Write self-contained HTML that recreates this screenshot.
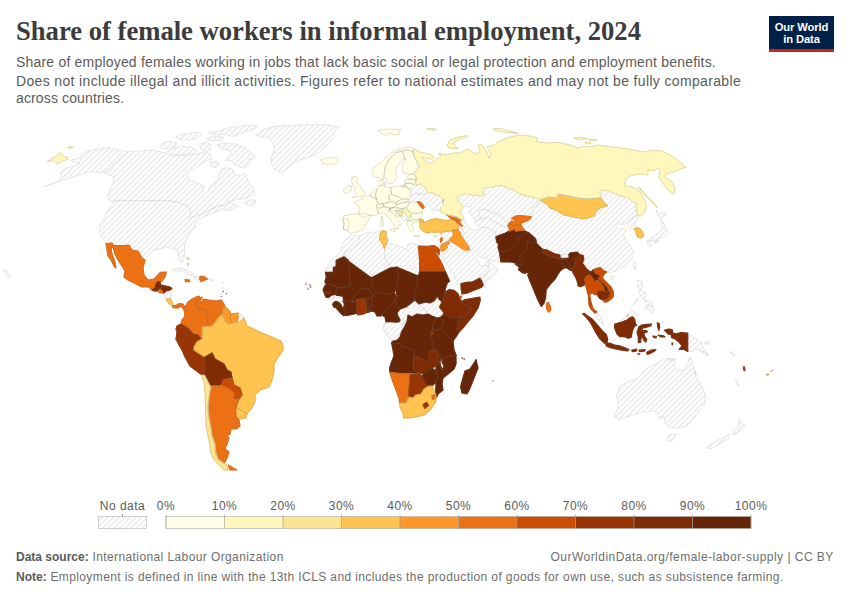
<!DOCTYPE html>
<html><head><meta charset="utf-8">
<style>
html,body{margin:0;padding:0;background:#fff;}
body{width:850px;height:600px;position:relative;overflow:hidden;font-family:"Liberation Sans",sans-serif;}
#title{position:absolute;left:16px;top:14px;font-family:"Liberation Serif",serif;font-weight:bold;font-size:28px;color:#3c3c3c;white-space:nowrap;line-height:34px;transform:scaleX(0.9507);transform-origin:0 0;}
.sub{position:absolute;left:16px;font-size:14px;line-height:17.5px;color:#5b5b5b;white-space:nowrap;}
#logo{position:absolute;left:769px;top:16px;width:65px;height:33px;background:#002147;border-bottom:3px solid #d0201a;color:#fff;font-weight:bold;font-size:11.2px;line-height:12px;text-align:center;letter-spacing:-0.1px;}
#logo span{display:block;}
.ft{position:absolute;font-size:12px;color:#6e6e6e;white-space:nowrap;line-height:15px;}
.ft b{color:#5b5b5b;letter-spacing:0;}
svg{position:absolute;left:0;top:0;}
.lg{font-size:12px;fill:#5b5b5b;font-family:"Liberation Sans",sans-serif;letter-spacing:0.5px;}
</style></head><body>
<div id="title">Share of female workers in informal employment, 2024</div>
<div class="sub" style="top:54px;letter-spacing:0.196px">Share of employed females working in jobs that lack basic social or legal protection and employment benefits.</div>
<div class="sub" style="top:72.5px;letter-spacing:0.347px">Does not include illegal and illicit activities. Figures refer to national estimates and may not be fully comparable</div>
<div class="sub" style="top:90px;letter-spacing:0.13px">across countries.</div>
<div id="logo"><span style="margin-top:4.6px">Our World</span><span>in Data</span></div>
<div class="ft" style="left:16px;top:549.5px;letter-spacing:0.4px"><b>Data source:</b> International Labour Organization</div>
<div class="ft" style="left:16px;top:569.7px;letter-spacing:0.39px"><b>Note:</b> Employment is defined in line with the 13th ICLS and includes the production of goods for own use, such as subsistence farming.</div>
<div class="ft" style="right:16.2px;top:549.5px;letter-spacing:0.47px">OurWorldinData.org/female-labor-supply | CC BY</div>
<svg width="850" height="600" viewBox="0 0 850 600">
<defs><pattern id="h" patternUnits="userSpaceOnUse" width="4" height="4" patternTransform="rotate(-45)"><rect width="4" height="4" fill="#fff"/><path d="M-1,2 L5,2" stroke="#d9d9d9" stroke-width="0.9"/></pattern></defs>
<g fill="url(#h)" stroke="#d0d0d0" stroke-width="0.5" stroke-linejoin="round">
<path d="M81,154.4 L88,151 L100,148.4 L108,147.4 L120,150 L128,151.4 L140,151 L153,150 L158.5,151.3 L167,153.4 L172.7,155.5 L182.6,155.5 L192.5,154.8 L199.6,153.4 L205.2,152 L209.5,153.4 L212.3,159.1 L206.7,160.5 L201,164.7 L193.9,169 L187.5,174.7 L189.7,179.6 L196.7,182.4 L203.8,186 L203.1,191.7 L205.2,193.8 L208.1,191.7 L208.8,187.4 L213.7,183.2 L218,178.9 L219.4,173.2 L220.8,169 L226.5,167.6 L232.2,169 L235,174.7 L240.7,176.1 L244.2,172.5 L246.3,177.5 L249.2,183.2 L253.4,188.8 L254.1,194.5 L252,196 L246,198 L236,200 L228,202 L238,206 L230,211 L224,209 L216,212 L206,216 L200,219 L196,222 L195,228 L192,230 L192,230 L190,234 L187,239 L184.4,245 L184.8,250 L184.4,255 L183.8,259.8 L181.8,262.6 L179.4,260.6 L178.6,257.4 L178,254 L177.6,250 L174,249 L170,248 L170,248 L166,247 L160,249 L154,250 L149,254 L145,260 L142,258 L138,251 L132,250 L129,245 L125,245.6 L114,245.6 L112,243 L106,243.6 L102,238 L100,232 L99,230 L100,226 L104,218 L108,210 L112,204 L115,200.6 L112,203 L107,198 L109,194 L111,186 L114,182 L113,176 L109,175 L104,173 L96,172 L88,172 L80,175 L74,177 L66,179 L56,183 L44.4,186.4 L60,180 L62,176 L60,172 L66,168 L74,166 L80,163 L72,162 L71,160 L80,158Z"/>
<path d="M159.2,145.6 L164.2,142.1 L171.2,141.4 L176.9,143.5 L174.8,147 L168.4,148.5 L162,148.5Z"/>
<path d="M167.7,151.3 L173.4,148.5 L181.2,146.3 L191.1,147 L196.7,150.6 L193.9,153.4 L186.8,154.1 L178.3,154.8 L171.2,154.8Z"/>
<path d="M175.5,137.1 L182.6,134.3 L192.5,132.9 L199.6,132.2 L201,135 L196.7,138.5 L189.7,140 L181.2,140Z"/>
<path d="M199.6,144.2 L206.7,142.1 L210.9,144.9 L210.2,149.9 L205.2,151.3 L201,149.2Z"/>
<path d="M206.7,137.8 L213.7,136.4 L223.7,137.1 L222.9,140 L213.7,140.7 L208.1,140.4Z"/>
<path d="M208.1,132.2 L216.6,131.5 L225.1,128.6 L237.8,126.5 L249.2,125.1 L257.6,125.8 L253.4,129.3 L246.3,131.5 L240.7,133.6 L235,136.4 L229.3,135.7 L223.7,134.7 L216.6,135 L210.9,134.3Z"/>
<path d="M216.6,144.9 L223.7,142.8 L229.3,143.5 L236.4,144.2 L243.5,147 L250.6,151.3 L255.5,157 L252,160.5 L247.7,159.1 L249.2,163.3 L246.3,166.9 L240.7,167.6 L235,164.7 L230.7,160.5 L225.1,160.5 L227.9,156.2 L232.2,153.4 L227.9,149.9 L220.8,148.5Z"/>
<path d="M209.5,161.9 L216.6,161.2 L219.4,164.7 L215.2,167.6 L210.9,166.2Z"/>
<path d="M244,203 L250,200 L256,200 L254,206 L247,205Z"/>
<path d="M256,135 L264,129 L278,126 L300,125 L322,124.4 L339,127 L335,130 L334,136 L330,142 L324,148 L318,153 L310,157 L300,160 L292,164 L286,170 L282,173 L276,171 L272,165 L271,158 L274,150 L273,143 L269,138 L262,137Z"/>
<path d="M3,270 L7,271 L11,276 L10,278.4 L6,274Z"/>
<path d="M172,269 L182,268 L192,273 L197,276.4 L190,275.6 L182,271 L174,271Z"/>
<path d="M194,277 L199.6,276.4 L200,280 L195,280Z"/>
<path d="M209.6,279.2 L213,279.2 L213,280.8 L209.6,280.8Z"/>
<path d="M160,281.6 L162,281 L162.4,285 L160.6,285Z"/>
<path d="M163,293 L166,291 L170,290 L170,290 L172,288.4 L171.6,294 L170.4,299 L169,299 L166,299 L164,296Z"/>
<path d="M238,313 L243,316 L242,320 L239,322 L237,322 L238,318Z"/>
<path d="M221.8,282.1 L222.7,282.1 L222.7,283.4 L221.8,283.4Z"/>
<path d="M222.1,287.1 L223,287.1 L223,288.4 L222.1,288.4Z"/>
<path d="M221.6,292.3 L222.5,292.3 L222.5,293.7 L221.6,293.7Z"/>
<path d="M221,300 L223.6,300 L223.6,302 L221,302Z"/>
<path d="M349,236.2 L354.7,234.8 L358.9,236.2 L367.4,232.7 L377.3,231.7 L380.9,232 L383,230.6 L386.5,231.7 L385.8,236.2 L387.9,239.8 L386.5,243.3 L394.3,244 L402.8,247.6 L407.1,249.7 L407.8,244.7 L412.7,242.6 L418.1,245.5 L428,246.4 L434,245.6 L438,248 L439.6,250 L439,255 L436,251 L435,252 L440,260 L443,266 L445,271 L449,280 L447,284 L448,288 L452,290 L457,294 L458.4,295 L461,294 L462,297 L463,300 L470,299.6 L479,297 L480,300 L478,306 L474,314 L468,322 L462,329 L459,332 L456,337 L453,341 L454,350 L456,355 L456,364 L454,369 L448,374 L443,378 L442,384 L443,390 L438,394 L436.4,398 L435,403 L430,410 L424,415 L416,417 L408,418 L403.6,418 L403,413 L400,407 L399.6,403 L399,398 L396,390 L393,382 L391,376 L390,372.4 L389.6,368 L391.6,362 L394,356 L393,350 L391.6,343 L391,335 L386,332 L384,328 L385,323 L386,322 L385,317 L382,315 L381,316 L377,316 L375,312 L371,311 L369,312 L367,312.4 L362,314.4 L358,315 L352,314.4 L346,316 L342,314 L340,312 L337,309 L333,305 L331,301 L328,298 L325,295 L324,292 L323,288 L325,284 L326.3,285.1 L324.9,281.6 L326.3,277.3 L325.6,272.4 L324.2,272.4 L328.5,264.6 L333.4,257.5 L339.1,254.7 L341.2,248.3 L343.3,241.9Z"/>
<path d="M439.9,234 L440.2,238.9 L439.9,243.2 L440.2,250.2 L441.3,251.7 L442.8,257 L446.4,264.1 L450.6,271.2 L454.2,276.8 L458.4,283.9 L461.2,288.9 L462,293.8 L466.9,293.1 L474,290.3 L481.1,287.5 L483.2,285.3 L486.7,281.1 L492.4,277.5 L495.9,274 L497.8,270.5 L495.9,266.9 L492.4,264.1 L489.6,262.7 L488.9,259.1 L487.5,261.2 L485.3,264.8 L481.8,266.2 L479.7,265.5 L479,262 L477.5,261.2 L474.7,256.3 L471.9,252 L470.5,249.9 L472.6,249.2 L476.1,253.5 L481.1,257.7 L486.7,258.4 L489.6,259.8 L492.4,261.2 L500.9,262 L499.4,251.7 L498,247.4 L498.7,244.6 L496.6,241.7 L495.9,236.8 L499.4,235.4 L505.1,233.2 L509.3,231.1 L509.3,228.3 L507.6,225.5 L509.3,223.3 L511.4,221.2 L511.4,218.4 L515,216.2 L520.7,215.5 L526.3,216.2 L531.3,216.5 L529.9,219.1 L526.3,221.2 L522.1,222.6 L520.7,225.5 L522.8,227.6 L524.2,230.4 L529.2,233.2 L532.7,236.1 L535.5,238.9 L536,243 L542,249 L547,250 L554,253.6 L560,255 L561,258 L567,258 L570,253 L577,252 L580,255 L582,260 L587,267 L590,271 L593,273 L595,269 L599,267 L604,269 L607,272 L610,273 L616,271 L624,267 L630,260 L632.4,259.3 L633.8,252.2 L631,246.6 L626.7,240.9 L623.2,234.5 L626.7,229.6 L622.5,228.2 L618.2,228.9 L615.4,226 L619,223.2 L621.1,225.3 L626.7,223.2 L628.2,225.3 L630.3,226.7 L632.4,228.9 L634.5,228.9 L635.9,227.5 L634.5,223.9 L635.9,221.1 L638.1,218.2 L637.4,215.4 L636.7,210.5 L635.9,206.2 L637.4,203.4 L633.8,202.7 L631,199.8 L625.3,197 L619.7,195.6 L614,193.5 L608.3,190.6 L601.2,189.9 L599.8,192.7 L601.2,196.3 L599.8,201.2 L602.7,203.4 L607.6,205.5 L601.2,207.6 L597.7,210.5 L596.3,214.7 L588.5,217.5 L580,218.2 L574,217 L564,215 L556,210 L550,208 L547,204 L540,200 L536,198 L528,196 L520,194 L514,190 L507.2,187.4 L501.5,185.5 L495.8,186 L492,186.9 L484.4,187.9 L482,189.3 L483,192.1 L484.4,194.5 L481.6,195.9 L476.8,195 L473,195.5 L468.3,194 L463.5,193.6 L459.7,195.5 L457.6,197.8 L457.8,201.2 L459.7,203.5 L462.6,205 L463.5,206.9 L467.3,206.4 L470.2,207.3 L471.6,208.8 L469.7,210.7 L468.3,212.6 L471.1,215.4 L474,218.3 L474.9,221.1 L475.9,224.9 L479.7,227.8 L478.7,230.1 L474.9,229.7 L471.1,228.7 L468.3,225.9 L466.4,223 L464.5,220.2 L463.5,219.7 L460.7,219.2 L461.1,220.6 L458.3,220.9 L460.7,223.5 L462.6,226.3 L460.2,225.4 L458.3,226.8 L459.2,229.7 L454,230.6 L447.4,231.6 L440.7,232.5Z"/>
<path d="M655.8,209.7 L659.3,213.3 L665,212.6 L666.4,214.7 L663.6,216.8 L660,217.5 L657.2,215.4 L656.5,212.6Z"/>
<path d="M660.7,218.2 L663.6,222.5 L665.7,227.5 L667.8,233.8 L665,236.7 L660.7,238.1 L657.2,239.5 L653.7,240.2 L650.1,240.9 L647.3,240.9 L650.8,237.4 L655.1,235.2 L659.3,232.4 L662.2,228.2 L661.4,222.5Z"/>
<path d="M646.6,241.6 L650.1,241.6 L652.2,245.2 L650.1,246.6 L648,244.4Z"/>
<path d="M653.7,240.9 L658.6,240.6 L658.6,242.3 L654.4,242.6Z"/>
<path d="M633.7,263.1 L635.6,261.9 L636.5,264 L636,268.8 L635.1,270.2 L633.5,266.9Z"/>
<path d="M609.4,276.4 L612.3,274.5 L614.2,276.4 L612.8,279.2 L610.4,279.7Z"/>
<path d="M592.8,311.2 L597.1,312 L601.3,317.6 L603.5,324.7 L600.6,322.6 L597.1,318.3 L594.2,314.8Z"/>
<path d="M617.6,323.3 L620.5,320.5 L625.4,316.9 L629,313.4 L631.8,310.5 L636,312.7 L637.5,314.8 L634.6,316.2 L632.5,316.9 L630.4,317.6 L627.5,319.7 L622.6,321.9Z"/>
<path d="M637,280 L642,281 L642.4,288 L640,290 L637.6,287Z"/>
<path d="M638.9,290 L644.5,291.4 L645.9,295.7 L643.8,298.5 L646.7,300.6 L644.5,301.3 L641.7,297.8 L639.6,294.2Z"/>
<path d="M645.2,302 L649.5,300.6 L653,303.5 L652.3,306.3 L648.8,304.9 L646.7,305.6Z"/>
<path d="M647.4,306.3 L653,305.6 L654,309.8 L651.6,313.4 L648.8,309.8 L645.9,309.1 L644.5,307.7Z"/>
<path d="M632.5,305.6 L637.5,298.5 L638.2,299.2 L633.9,305.9Z"/>
<path d="M687.7,333.2 L692,336 L697.6,339.6 L702.6,343.1 L701.9,345.9 L704.7,350.2 L709,355.2 L704.7,353.7 L699.8,350.2 L695.5,348.8 L692,351.6 L687.7,351.6Z"/>
<path d="M704,343.1 L709.7,341.7 L710,343.8 L705.4,344.5Z"/>
<path d="M614,416 L617,410 L618,402 L616.4,397 L619.6,386 L627,382 L638,378 L643,372 L650,366 L654,365 L659,362 L666,358 L672,360 L676,359 L667.2,358 L669.3,360.8 L675,360.1 L673.6,365.1 L677.8,369.3 L683.5,370.7 L687.7,363.7 L689.9,356.6 L692,360.8 L694.1,369.3 L695.5,375 L695,370 L697,378 L702,386 L705.6,396 L705,403 L700,410 L694,418 L688,425 L680,428 L670,428 L665,423 L664,416 L659,419 L658,414 L654,411 L642,412 L630,416 L619,419.6Z"/>
<path d="M668,435 L676,434 L673,440 L668,441.6Z"/>
<path d="M739,418 L742,424 L746,426 L740,431 L734,435 L733,431 L738,427Z"/>
<path d="M730,434 L728,439 L720,444 L710,449 L705.6,447.6 L712,443 L722,438Z"/>
<path d="M735,380.4 L736.4,380 L739.6,385.6 L738.4,386.4Z"/>
<path d="M561.6,255 L567,255.6 L567,257.6 L562,257.4Z"/>
<path d="M701,351 L705,352.4 L708,355 L707,355.6 L703.6,353.6 L700.6,351.8Z"/>
<path d="M730,351 L732.4,352.4 L735,356 L733.6,356 L731,353Z"/>
<path d="M401.6,217.2 L405.8,214.4 L407.9,217.2 L405.8,219.3 L404.4,221.4 L403,219.3Z"/>
<path d="M411.5,187.5 L414.3,184.6 L417.2,185.3 L421.4,183.9 L425.7,188.2 L427.1,192.4 L423.5,194.5 L418.6,193.8 L412.9,194.5 L410.8,192.4 L410.1,189.6Z"/>
<path d="M412.9,194.5 L418.6,193.8 L423.5,194.5 L427.1,192.4 L432.7,193.1 L439.1,195.9 L443.4,199.5 L442.6,203 L439.1,204.4 L436.3,207.3 L439.1,209.4 L434.2,211.5 L431.3,209.4 L429.9,205.9 L425.7,206.6 L423.5,208 L422.8,204.4 L420,201.9 L417.2,201.9 L414.3,202.3 L410.1,201.6 L408.7,199.5 L410.8,196.7 L409.4,195.9Z"/>
</g>
<g fill="none" stroke="#c4c4c4" stroke-width="0.5">
<path d="M128,151.4 L104,173"/>
<path d="M115,200.6 L170,200.6 L170,201 L178,202 L185,205 L190,209 L191,213 L189,218 L198,215.6 L210,210 L220,205 L224,206 L228,202"/>
<path d="M358.9,236.2 L360.3,241.9 L356.1,245.5 L351.1,249 L345.5,251.8 L344,256.8"/>
<path d="M343.3,253.2 L344,256.8 L336.2,260.3 L336.2,266.7 L333.4,267.4 L333.4,272.4 L325.6,272.4"/>
<path d="M384.4,248.7 L385.1,258.9 L388.7,264.6 L391.5,266.3"/>
<path d="M419,304 L425,310 L428,314"/>
<path d="M392,322 L392.4,328 L400,327.6 L402,324 L407,322"/>
<path d="M392.4,328 L390,334"/>
<path d="M331.6,295.2 L333.5,295.7 L334,297.6 L331.2,300.4"/>
<path d="M626.7,223.2 L629.6,220.4 L634.5,216.8 L637.4,215.4"/>
<path d="M531.3,216.5 L533.4,212 L532,207.7 L537.6,204.9 L539.1,200.7 L541.9,199.2"/>
<path d="M479.7,227.8 L484.4,226.8 L488.2,228.2 L493,230.6 L495.8,232.5 L495.8,235.4"/>
<path d="M474.9,221.1 L477.3,219.2 L480.6,219.7 L483.5,218.3 L486.3,217.3 L490.1,219.2 L493.9,221.6 L497.7,223 L501.5,225.9 L505.3,226.8 L508.2,230.1"/>
<path d="M480.6,219.7 L479.7,215.4 L478.7,210.7 L482.5,209.2 L486.3,210.2 L492,212.6 L496.8,213.5 L501.5,216.4 L504.4,220.2 L507.2,223 L510.1,222.1"/>
<path d="M479.7,278.2 L486.7,274.7 L489.6,268.3 L487.5,266.2 L485.3,264.8"/>
<path d="M487.5,266.2 L489.6,262.7"/>
<path d="M467.5,250.2 L469.7,249.5 L468.2,252.4 L466.1,251.7"/>
<path d="M445.6,242.5 L449.1,240.3"/>
<path d="M460.5,226.2 L463.3,231.8 L462.6,237.5 L466.8,243.2 L469,248.8 L469.7,249.5"/>
</g>
<g stroke-width="1.2" stroke-linejoin="round">
<path d="M321,159.6 L328,158 L337,157.6 L339,160 L336,163.6 L329,165 L323,163.6Z" fill="#ffffe5" stroke="#ffffe5"/>
<path d="M47.4,161.4 L52.4,158.6 L61,152.6 L63.6,156.6 L68,157.4 L68.4,159.4 L63.6,160.4 L60,162.4 L57,163.6 L54,160.4 L50,161Z" fill="#fff7bc" stroke="#fff7bc"/>
<path d="M67.6,147.6 L70.4,146.6 L73,147 L70,148.4Z" fill="#fff7bc" stroke="#fff7bc"/>
<path d="M186.6,257.6 L189,258 L189.4,260 L187.2,259.6Z" fill="#fee391" stroke="none"/>
<path d="M187.2,263 L188.8,263 L188.8,265.6 L187.4,265.6Z" fill="#fee391" stroke="none"/>
<path d="M185,279.6 L189.6,280 L189.2,281.6 L185.6,281.6Z" fill="#ec7014" stroke="#ec7014"/>
<path d="M200,276.4 L204,276.4 L207.6,279 L204,280.4 L201,281.6 L199.6,279Z" fill="#ec7014" stroke="#ec7014"/>
<path d="M106,243.6 L112,243 L114,245.6 L125,245.6 L129,245 L132,250 L138,251 L142,258 L145,260 L143,268 L144,275 L148,280 L154,279 L158,275 L160,272.4 L166.4,272 L165,277 L162,281 L160,281.6 L158,281.6 L156,284 L155,288 L152,290 L149,287 L142,287 L134,283 L128,280 L124,277 L125,271 L122,266 L118,260 L115,254 L113,247 L111,248 L112,254 L115,262 L116,268 L114,266 L111,260 L108,256 L107,250Z" fill="#ec7014" stroke="#ec7014"/>
<path d="M152,290 L155,288 L156,284 L158,281.6 L160,281.6 L160.6,285 L162,287 L160,289 L158,291 L154,291Z" fill="#7f2c05" stroke="#7f2c05"/>
<path d="M160.6,285 L166,286 L170,287 L170,287 L172,288.4 L170,290 L170,290 L166,291 L164,293 L162,291 L160,289 L162,287Z" fill="#7f2c05" stroke="#7f2c05"/>
<path d="M158,291 L160,289.2 L162.4,291.4 L163,293 L160,293Z" fill="#ec7014" stroke="#ec7014"/>
<path d="M166,299 L170,299 L170.4,299 L172.4,302.4 L172.8,305.6 L171,305 L168.4,303Z" fill="#fec44f" stroke="#fec44f"/>
<path d="M172.8,305.6 L176,305.6 L179,303.6 L183,304 L185,307 L183.6,309 L181,306 L178,308 L175,308 L172.4,307Z" fill="#ec7014" stroke="#ec7014"/>
<path d="M185,307 L188,302 L192,299 L196,297 L199,296 L200,298 L197,301 L196,305 L199,309 L206,310 L208,318 L207,323 L209,326 L202,327 L202.4,334 L202,339 L200,338 L198,335 L193,334 L189,329 L184,326 L181,324 L182,320 L185,316 L184,310Z" fill="#ec7014" stroke="#ec7014"/>
<path d="M200,298 L202,297 L200,301 L202,303 L203,299 L209,300 L216,301 L221,300 L224,304 L225,307 L222.4,310 L223,314 L218,318 L215,323 L212,326 L209,326 L207,323 L208,318 L206,310 L199,309 L196,305 L197,301Z" fill="#ec7014" stroke="#ec7014"/>
<path d="M225,307 L229,310 L231,314 L230,319 L232,323 L228,324 L225.6,321 L224,318 L223,314 L222.4,310Z" fill="#fe9929" stroke="#fe9929"/>
<path d="M231,314 L238,313 L238,318 L237,322 L233,323 L232,323 L230,319Z" fill="#fe9929" stroke="#fe9929"/>
<path d="M177,326 L181,324 L184,326 L189,329 L190,332 L185,336 L182,340 L179,340 L176,339 L177,332 L176,329Z" fill="#993404" stroke="#993404"/>
<path d="M176,339 L179,340 L182,340 L185,336 L190,332 L189,329 L193,334 L198,335 L200,338 L202,339 L197,342 L194,347 L194,350 L194,350 L200,354 L205,357 L205.6,366 L204,375 L202,375 L198,372 L190,366 L185,357 L182,350 L179,345Z" fill="#993404" stroke="#993404"/>
<path d="M209,326 L212,326 L215,323 L218,318 L223,314 L224,318 L225.6,321 L228,324 L232,323 L237,322 L239,322 L242,320 L244,318 L247,326 L254,329 L262,333 L272,337 L281,341 L283,346 L283,350 L283,350 L279,356 L274,364 L274,372 L272,380 L269,387 L260,390 L255,395 L255,402 L251,409 L247,414 L236,407 L239,399 L242,395 L240,388 L234,385 L232,378 L231,372 L227,370 L224,364 L215,359 L212,353 L205,357 L200,354 L194,350 L194,347 L197,342 L202,339 L202.4,334 L202,327Z" fill="#fec44f" stroke="#fec44f"/>
<path d="M236,407 L247,414 L246,418 L240,419 L236,417 L235.6,410Z" fill="#fec44f" stroke="#fec44f"/>
<path d="M205,357 L212,353 L215,359 L224,364 L227,370 L231,372 L232,378 L227,379 L223,380 L221.6,385 L218,386 L213,385.6 L211,387 L208,382 L205,376 L204,375 L205.6,366Z" fill="#7f2c05" stroke="#7f2c05"/>
<path d="M223,380 L227,379 L232,378 L234,385 L240,388 L242,395 L239,399 L233.6,399 L234,393 L229,389 L222.4,386 L221.6,385Z" fill="#cc4c02" stroke="#cc4c02"/>
<path d="M211,387 L213,385.6 L218,386 L221.6,385 L222.4,386 L229,389 L234,393 L233.6,399 L239,399 L236,407 L235.6,410 L236,417 L239,420 L240,426 L236,429 L231,429 L230,434 L227,436 L229,438 L227,444 L225,449 L229,452 L227,458 L225,462 L223,463 L218,459 L215.6,452 L215,444 L212,436 L211,428 L209,418 L208,408 L209,398 L210,391Z" fill="#ec7014" stroke="#ec7014"/>
<path d="M228.4,465 L234,468.6 L237,470 L230,470Z" fill="#ec7014" stroke="#ec7014"/>
<path d="M202,375 L204,375 L205,376 L208,382 L211,387 L210,391 L209,398 L208,408 L209,418 L211,428 L212,436 L215,444 L215.6,452 L218,459 L223,463 L226,464 L228.4,470 L224,470 L218,464 L213,458 L210.6,452 L209.8,444 L208,436 L206.2,426 L205.6,410 L205.2,394 L204,382Z" fill="#fee391" stroke="#fee391"/>
<path d="M222.9,291.1 L223.9,291.1 L223.9,292.1 L222.9,292.1Z" fill="#993404" stroke="none"/>
<path d="M226.1,293 L227,293 L227,294 L226.1,294Z" fill="#993404" stroke="none"/>
<path d="M220.8,295.9 L221.8,295.9 L221.8,296.8 L220.8,296.8Z" fill="#993404" stroke="none"/>
<path d="M325.6,272.4 L333.4,272.4 L333.4,267.4 L336.2,266.7 L336.2,260.3 L344,256.8 L348.3,260.3 L349,263.2 L350.1,286.5 L337,287.9 L336.2,285.8 L332,284.4 L326.3,285.1 L324.9,281.6 L326.3,277.3Z" fill="#662506" stroke="#662506"/>
<path d="M323.1,289.5 L325,285.7 L329.3,284.3 L333.5,285.7 L336.9,287.4 L336.1,292.3 L336.4,295.2 L335.4,294.2 L331.6,295.2 L328.3,297.6 L325.9,297.1 L324.5,293.8Z" fill="#662506" stroke="#662506"/>
<path d="M324.5,292.4 L330.7,292.2 L330.7,293.1 L324.5,293.4Z" fill="#7f2c05" stroke="#7f2c05"/>
<path d="M344,258 L370,277 L372,277.6 L372,283 L371,288 L365,288 L360,290 L357,293 L354,296 L352,300 L350.2,301.4 L347.8,300.4 L343.3,301.4 L343.5,298.5 L342.6,296.1 L336.4,295.2 L335.9,292.3 L337,287.9 L350.1,286.5 L349,263.2 L348.3,260.3Z" fill="#662506" stroke="#662506"/>
<path d="M372,277.6 L390,268 L397,267 L398.4,273 L398,280 L396,290 L394,292 L388,294 L383,293 L376,292 L373,295 L370,292 L368,289 L365,288 L371,288 L372,283Z" fill="#662506" stroke="#662506"/>
<path d="M397,267 L399,268 L417,275.6 L417,288 L415,290 L414,297 L415,300 L411,303 L406,307 L400,309 L397,306 L395,299 L397,296 L396,290 L398,280 L398.4,273Z" fill="#662506" stroke="#662506"/>
<path d="M419.6,271 L445,271 L449.6,281 L447,283.4 L445.6,288 L444,296 L441.6,301.4 L439,299 L437.6,296 L434,301 L430,303 L426,302 L422,303 L419,304 L416,301 L415,300 L414,297 L415,290 L417,288 L417,275.6 L419,275Z" fill="#662506" stroke="#662506"/>
<path d="M418.4,246 L428,246.4 L434,245.6 L438,248 L439.6,250 L439,255 L436,251 L435,252 L440,260 L443,266 L445,271 L419.6,271 L419.6,260Z" fill="#cc4c02" stroke="#cc4c02"/>
<path d="M380.9,232 L383,230.6 L386.5,231.7 L385.8,236.2 L387.9,239.8 L386.5,243.3 L384.4,248.7 L383,244.7 L379.4,239.1Z" fill="#fec44f" stroke="#fec44f"/>
<path d="M352,300 L354,296 L357,293 L360,290 L365,288 L368,289 L370,292 L373,295 L370,298 L365,299 L360,299 L356,300 L355,303Z" fill="#662506" stroke="#662506"/>
<path d="M373,295 L376,292 L383,293 L388,294 L394,292 L396,296 L395,299 L393,303 L390,307 L387,310 L384,312 L381,316 L377,316 L375,312 L371,311 L371,304 L372,299Z" fill="#662506" stroke="#662506"/>
<path d="M395,299 L397,306 L400,309 L397,313 L398,316 L400,320 L399,323 L392,322 L386,322 L385,317 L382,315 L384,312 L387,310 L390,307 L393,303Z" fill="#662506" stroke="#662506"/>
<path d="M370,298 L373,295 L372,299 L371,304 L371,311 L369,312 L368,306 L367,301Z" fill="#662506" stroke="#662506"/>
<path d="M365,299 L370,298 L367,301 L368,306 L369,312 L367,312.4 L365.6,306Z" fill="#662506" stroke="#662506"/>
<path d="M356,300 L360,299 L365,299 L365.6,306 L367,312.4 L362,314.4 L358,315 L356.4,310 L357,305Z" fill="#993404" stroke="#993404"/>
<path d="M343.5,308 L344.5,304.2 L343.3,301.4 L347.8,300.4 L350.2,301.4 L353,302.3 L356,301.8 L356.3,311.8 L356.8,313.2 L353,314.2 L348.3,315.1 L345.4,315.6 L345.4,314.7Z" fill="#662506" stroke="#662506"/>
<path d="M338.8,302.8 L340.7,304.2 L342.1,307.5 L343.5,308 L345.4,314.7 L343.5,315.6 L340.7,313.2 L337.3,309.4 L336.4,308 L337.8,305.6Z" fill="#662506" stroke="#662506"/>
<path d="M333.5,302.8 L335.4,301.4 L337.8,301.8 L338.8,302.8 L337.8,305.6 L336.4,308 L334,307.1 L332.6,304.7Z" fill="#662506" stroke="#662506"/>
<path d="M446.1,291.4 L449.5,289.5 L454.2,290.4 L458,293.8 L459,297.1 L459.4,298.5 L461.8,301.4 L464.7,304.7 L472.3,307.5 L469.4,311.8 L464.7,315.6 L459.9,317 L455.2,317.5 L452.3,318.5 L448.5,317 L445.2,314.2 L443.3,311.8 L439.5,307.1 L441.4,303.3 L443.3,297.6 L444.7,293.8Z" fill="#7f2c05" stroke="#7f2c05"/>
<path d="M462.3,301.4 L464.7,299.5 L471.3,298.5 L479.9,297.1 L480.3,300.4 L478,308 L473.2,315.6 L467.5,322.3 L463.7,327 L459,332 L457,330 L458.5,317.5 L459.9,317 L464.7,315.6 L469.4,311.8 L472.3,307.5 L464.7,304.7 L461.8,301.4Z" fill="#7f2c05" stroke="#7f2c05"/>
<path d="M459,296.8 L461,295.5 L462,296.8 L461,298.5 L459.3,298.7Z" fill="#cc4c02" stroke="none"/>
<path d="M437,318 L442,317 L444,321 L442,326 L440,330 L434,330 L432.4,328 L434,322Z" fill="#662506" stroke="#662506"/>
<path d="M439.9,317.8 L442.7,315.4 L444.1,313 L445.2,314.2 L448.5,317 L452.3,318.5 L455.2,317.5 L458.5,317.5 L457.6,324 L457,330 L459,332 L456,337 L453,341 L442,331 L440,330 L442,326 L444,321Z" fill="#662506" stroke="#662506"/>
<path d="M408,315 L412,317 L417,314 L423,315 L428,314 L432,316 L437,318 L434,322 L432.4,328 L431,334 L432,340 L433,346 L434,350 L436,350 L430,351 L429,356 L429,361 L426,362 L420,358 L414.4,356 L414,350 L409,350 L408,347 L402,348 L400,343 L395,344 L391.6,343 L393,341 L397,340 L400,334 L404,328 L407,322Z" fill="#662506" stroke="#662506"/>
<path d="M434,330 L440,330 L442,331 L453,341 L454,350 L456,355 L444,358 L442,359 L439,356 L436,350 L434,350 L433,346 L432,340 L431,334 L432.4,328Z" fill="#662506" stroke="#662506"/>
<path d="M391.6,343 L395,344 L400,343 L402,348 L408,347 L409,350 L414,350 L414.4,356 L413,361 L414,370 L419,373 L416,374 L410,373.6 L400,373.6 L390,372.4 L389.6,368 L391.6,362 L394,356 L393,350Z" fill="#662506" stroke="#662506"/>
<path d="M390,372.4 L400,373.6 L410,373.6 L416,374 L419,373.4 L416,374.6 L410,375 L410,382 L409,390 L408.4,398 L406,403 L402,403 L399.6,403 L399,398 L396,390 L393,382 L391,376Z" fill="#ec7014" stroke="#ec7014"/>
<path d="M410,375 L416,374.2 L419,373.6 L422,376 L426,383 L429,386 L424,389 L421,394 L416,395 L413,398 L409,397 L409,390 L410,382Z" fill="#993404" stroke="#993404"/>
<path d="M413,361 L414.4,356 L420,358 L426,362 L429,361 L429,356 L430,351 L436,350 L439,356 L439,362 L436,366 L432,368 L428,370 L424,373.6 L419,373 L414,370Z" fill="#7f2c05" stroke="#7f2c05"/>
<path d="M424,373.6 L428,370 L432,368 L436,371 L438,376 L436,382 L432,386 L429,386 L426,383 L422,376Z" fill="#662506" stroke="#662506"/>
<path d="M444,358 L456,355 L456,364 L454,369 L448,374 L443,378 L442,384 L443,390 L438,394 L436.4,398 L435.6,395 L436,382 L438,376 L436,371 L436,366 L439,362 L440,365 L441,369 L443,370 L444,366 L442,362 L442,359Z" fill="#662506" stroke="#662506"/>
<path d="M439,356 L441,357 L440,362 L440.6,366 L443,370 L441,369 L440,365 L439,362Z" fill="#662506" stroke="#662506"/>
<path d="M402,403 L406,403 L408.4,398 L409,397 L413,398 L416,395 L421,394 L424,389 L429,386 L432,386 L435.6,395 L436.4,398 L435,403 L430,410 L424,415 L416,417 L408,418 L403.6,418 L403,413 L400,407 L399.6,403Z" fill="#fec44f" stroke="#fec44f"/>
<path d="M432,395.6 L434.4,395 L434.8,398.6 L432.4,399.2Z" fill="#ec7014" stroke="#ec7014"/>
<path d="M423,405 L426.4,402.4 L428.4,405 L425,408.4Z" fill="#993404" stroke="#993404"/>
<path d="M476,359.6 L478,368 L474,378 L470,388 L467,394 L462,393 L460.6,387 L462.4,380 L465,371 L470,369 L474,363Z" fill="#662506" stroke="#662506"/>
<path d="M461.6,357.6 L462.8,357.6 L462.8,358.8 L461.6,358.8Z" fill="#7f2c05" stroke="none"/>
<path d="M463.6,358.6 L464.8,358.6 L464.8,359.8 L463.6,359.8Z" fill="#7f2c05" stroke="none"/>
<path d="M492.4,380.4 L493.6,380.4 L493.6,381.6 L492.4,381.6Z" fill="#fec44f" stroke="none"/>
<path d="M305.4,283.6 L306.6,283.6 L306.6,284.6 L305.4,284.6Z" fill="#993404" stroke="none"/>
<path d="M309.4,284.6 L310.6,284.6 L310.6,285.6 L309.4,285.6Z" fill="#993404" stroke="none"/>
<path d="M307.4,288.6 L308.6,288.6 L308.6,289.6 L307.4,289.6Z" fill="#993404" stroke="none"/>
<path d="M310,286.6 L311.2,286.6 L311.2,287.6 L310,287.6Z" fill="#993404" stroke="none"/>
<path d="M430.8,331.9 L433.5,331.6 L433.8,334.1 L431.3,334.7Z" fill="#993404" stroke="none"/>
<path d="M419.3,222.9 L421.9,222.2 L425.1,222.5 L428.3,220.6 L434.7,218.7 L441.1,219.7 L447.5,220.6 L451.8,219.7 L455.5,220.6 L456.6,222.9 L458.7,225.9 L458,230 L453.9,230.7 L449.6,231.3 L445.4,231.3 L442,232.1 L441.3,233.6 L440.3,232.1 L437.4,231.8 L434.7,232.5 L431,231.8 L427.8,233.1 L424.1,231.8 L421.1,229.3 L419.8,226.1 L420.6,224Z" fill="#fec44f" stroke="#fec44f"/>
<path d="M418.5,219.7 L420.3,218.7 L423,219.7 L423.5,221.4 L420.9,221.7 L419.3,221.1Z" fill="#fec44f" stroke="#fec44f"/>
<path d="M433.1,236.1 L437.1,235.2 L437.4,236.6 L434,237.5Z" fill="#ffffe5" stroke="#ffffe5"/>
<path d="M446.4,214.5 L450.2,215.4 L456.9,216.8 L460.7,219.2 L461.1,220.6 L457.8,220.6 L455.4,220.3 L451.2,218.7Z" fill="#ec7014" stroke="#ec7014"/>
<path d="M455.4,220.6 L458.3,220.9 L460.7,223.5 L462.6,226.3 L460.2,225.4 L457.8,223Z" fill="#ec7014" stroke="#ec7014"/>
<path d="M452.7,230.4 L457.6,229.7 L459.7,231.8 L461.2,236.1 L464,240.3 L468.2,246 L469.7,249.5 L467.5,250.2 L463.3,249.5 L459.7,246.7 L454.1,243.2 L449.1,240.3 L453.4,235.4Z" fill="#fe9929" stroke="#fe9929"/>
<path d="M441.1,245.1 L445.4,242.5 L448.6,241.4 L449.6,243.5 L445.9,245.1 L447.5,247.2 L444.3,250.4 L441.1,251 L440.9,247.8Z" fill="#fe9929" stroke="#fe9929"/>
<path d="M440.2,239.2 L442,237.5 L442.2,240.3 L440.8,242.5Z" fill="#ec7014" stroke="#ec7014"/>
<path d="M461,283.9 L464.8,282.5 L472.6,281.8 L479.7,278.2 L481.8,281.1 L483.2,285.3 L481.1,287.5 L474,290.3 L466.9,293.1 L462,293.8 L461.2,288.9Z" fill="#7f2c05" stroke="#7f2c05"/>
<path d="M495.9,236.8 L499.4,235.4 L505.1,233.2 L509.3,231.1 L514.3,229 L515.7,231.1 L520.7,230.4 L524.2,230.4 L529.2,233.2 L523.5,234 L520.7,236.1 L518.5,237.5 L517.8,241.7 L515,244.6 L513.6,247.4 L509.3,250.2 L503.7,251.7 L499.4,251.7 L498,247.4 L498.7,244.6 L496.6,241.7Z" fill="#662506" stroke="#662506"/>
<path d="M499.4,251.7 L503.7,251.7 L509.3,250.2 L513.6,247.4 L515,244.6 L517.8,241.7 L518.5,237.5 L520.7,236.1 L523.5,234 L529.2,233.2 L532.7,236.1 L535.5,238.9 L536.2,242.5 L532,243.2 L527.7,241.7 L527,248.8 L522.1,254.5 L518.5,257.3 L520.7,261.6 L522.8,264.4 L517.8,264.4 L515,263 L510.8,262 L500.9,262Z" fill="#662506" stroke="#662506"/>
<path d="M535.5,238.9 L536.2,242.5 L532,243.2 L527.7,241.7 L527,248.8 L522.1,254.5 L518.5,257.3 L520.7,261.6 L522.8,264.4 L517.8,264.4 L515.1,264.1 L519.3,266.9 L518.6,269.7 L522.2,272.6 L525,273.3 L528.5,271.9 L527.8,275.4 L530.7,282.5 L534.2,291 L537.7,299.5 L541.3,306.6 L544.1,303 L545.5,298.1 L546.2,289.6 L550.5,283.9 L554.7,279.7 L560,271 L564,268 L562.4,264 L561,259 L567,260 L568,263 L570,267 L572,270 L574,268 L576,262 L579,259 L580,255 L577,252 L570,253 L567,257 L562,257 L561,258 L559,259 L550,256 L543,253 L542,249 L536,243Z" fill="#662506" stroke="#662506"/>
<path d="M542,249 L547,250 L554,253.6 L560,255 L560,258 L559,259 L550,256 L543,253Z" fill="#7f2c05" stroke="#7f2c05"/>
<path d="M561,259 L567,260 L568,263 L570,267 L570.6,270.6 L568.4,269 L567,268 L564,268 L562.4,264Z" fill="#662506" stroke="#662506"/>
<path d="M546.9,303 L548.4,302.3 L550.5,306.6 L550.8,310.1 L548.8,312.2 L546.9,309.4 L546.2,305.9Z" fill="#ec7014" stroke="#ec7014"/>
<path d="M511.4,218.4 L515,216.2 L520.7,215.5 L526.3,216.2 L531.3,216.5 L529.9,219.1 L526.3,221.2 L522.1,222.6 L520.7,225.5 L516.4,224.7 L512.9,225.5 L509.3,223.3 L511.4,221.2 L515.7,221.2 L515,219.8Z" fill="#ec7014" stroke="#ec7014"/>
<path d="M507.6,225.5 L509.3,223.3 L512.9,225.5 L516.4,224.7 L520.7,225.5 L522.8,227.6 L524.2,230.4 L520.7,230.4 L515.7,231.1 L514.3,229 L509.3,231.1 L509.3,228.3Z" fill="#ec7014" stroke="#ec7014"/>
<path d="M540,200 L548,197 L557,198 L558,194 L568,196 L578,198 L590,199 L601,198 L604,203 L607.6,205.6 L600,208 L596,211 L594,216 L584,219 L574,217 L564,215 L556,210 L550,208 L547,204Z" fill="#fec44f" stroke="#fec44f"/>
<path d="M634.5,228.9 L637.4,227.5 L640.9,229.6 L643,233.1 L643.7,235.9 L640.9,237.8 L638.1,237.4 L636.7,234.5 L635.9,231.7Z" fill="#fec44f" stroke="#fec44f"/>
<path d="M579.5,254.5 L583.3,255.5 L583.8,259.3 L582.4,263.1 L585.7,267.8 L588.5,270.7 L591.4,272.1 L590.4,273.5 L587.6,275.4 L585.2,277.8 L584.7,280.2 L585.7,283 L584.3,284.9 L580.9,286.8 L578.1,285.9 L577.6,282.5 L575.7,277.3 L572.9,272.6 L571.4,269.2 L571.9,268.8 L574.8,264 L575.7,258.3Z" fill="#7f2c05" stroke="#7f2c05"/>
<path d="M591.4,272.1 L593.3,269.7 L595.7,273.5 L599,274.5 L600.4,276.4 L598.5,278.7 L601.4,280.6 L605.2,284.9 L608,288.2 L608.5,291.1 L604.7,291.6 L603.7,287.8 L600.4,282.1 L597.6,280.2 L593.8,281.6 L592.8,278.3 L590.4,275.4 L590.4,273.5Z" fill="#662506" stroke="#662506"/>
<path d="M593.3,269.7 L597.1,268.3 L600.4,267.6 L602.8,270.2 L606.6,272.1 L604.7,273.5 L602.8,276.4 L602.8,278.7 L606.6,282.5 L610.9,286.8 L613.2,291.6 L613.2,296.8 L610.9,299.2 L606.6,302 L603.7,302 L606.1,299.2 L608.5,296.8 L609.4,292.5 L608.5,291.1 L608,288.2 L605.2,284.9 L601.4,280.6 L598.5,278.7 L600.4,276.4 L599,274.5 L595.7,273.5Z" fill="#cc4c02" stroke="#cc4c02"/>
<path d="M585.2,277.8 L587.6,275.4 L590.4,275.4 L592.8,278.3 L593.8,281.6 L597.6,280.2 L600.4,282.1 L603.7,287.8 L604.7,291.6 L598.5,291.1 L597.1,293.5 L595.2,294.9 L592.3,293 L589.5,294.4 L590.4,299.2 L590.9,302 L593,309 L597,312 L595,313 L591,309 L589,305 L588.5,296.3 L587.1,290.6 L585.7,285.9 L585.7,283 L584.7,280.2Z" fill="#cc4c02" stroke="#cc4c02"/>
<path d="M598.5,291.1 L604.7,291.6 L608.5,291.1 L609.4,292.5 L608.5,296.8 L606.1,299.2 L602.3,300.1 L599.5,298.2 L597.6,295.4 L597.1,293.5Z" fill="#7f2c05" stroke="#7f2c05"/>
<path d="M590,317.6 L592.8,319.7 L597.1,324.7 L602,330.4 L606.3,334.6 L607.7,338.9 L607,343.1 L604.2,343.1 L599.9,338.9 L595.7,332.5 L592.1,325.4 L590,321.9 L586.5,317.6 L582.6,313.8 L584.3,313.4 L587.9,316.2Z" fill="#7f2c05" stroke="#7f2c05"/>
<path d="M605.6,343.5 L609.8,343.1 L614.8,345.2 L619.7,345.9 L625.4,348.1 L629,349.5 L627.5,350.9 L621.9,350.2 L615.5,348.8 L609.8,347.4 L606.3,345.9Z" fill="#7f2c05" stroke="#7f2c05"/>
<path d="M631.8,350.2 L636.7,349.2 L636,351.2 L632.2,351.6Z" fill="#7f2c05" stroke="#7f2c05"/>
<path d="M638.9,350.2 L645.2,349.5 L644.5,351.2 L639.6,351.6Z" fill="#7f2c05" stroke="#7f2c05"/>
<path d="M646.7,352.3 L650.9,350.2 L655.9,349.5 L654.4,351.2 L649.5,353.7 L647.4,354.4Z" fill="#7f2c05" stroke="#7f2c05"/>
<path d="M637.5,353 L640.3,353.5 L639.6,354.9 L637.7,354.4Z" fill="#7f2c05" stroke="none"/>
<path d="M614.8,324 L617.6,323.3 L622.6,321.9 L627.5,319.7 L630.4,317.6 L632.5,316.9 L634.6,319 L635.3,323.3 L636.7,325.4 L634.6,326.1 L632.5,330.4 L631.1,337.5 L628.2,338.2 L624.7,336.7 L619.7,336.7 L616.9,333.9 L615.5,330.4 L614.4,326.8Z" fill="#7f2c05" stroke="#7f2c05"/>
<path d="M626.5,315.2 L628.5,314.4 L628.5,316.6 L626.8,317.2Z" fill="#fee391" stroke="none"/>
<path d="M638.9,326.8 L641.7,325.1 L646.7,324.4 L651.6,324 L650.9,325.7 L646.7,327.1 L642.4,328.2 L641.7,331.1 L645.9,330.4 L647.4,331.8 L643.8,333.2 L644.5,336 L646.7,339.6 L645.9,342.1 L643.8,340.3 L642.4,336 L641,338.2 L640.7,342.4 L638.4,342.7 L638.2,336.7 L637,332.5Z" fill="#7f2c05" stroke="#7f2c05"/>
<path d="M657.3,322.6 L659.4,324 L659.7,327.5 L658.7,330.4 L657.7,326.8Z" fill="#7f2c05" stroke="#7f2c05"/>
<path d="M653,336 L656.6,336.5 L655.9,337.9 L653.5,337.5Z" fill="#7f2c05" stroke="#7f2c05"/>
<path d="M658,335.3 L662.9,335.6 L665.1,337 L660.8,337Z" fill="#7f2c05" stroke="#7f2c05"/>
<path d="M664.4,330.4 L668.6,329 L672.2,329.7 L672.9,333.2 L676.4,333.9 L680.7,332.5 L687.7,333.2 L687.7,351.6 L684.2,349.5 L679.2,349.5 L682.1,345.9 L679.2,342.4 L675,338.9 L671.4,337.5 L671.4,334.6 L667.9,333.9 L666.5,331.8Z" fill="#7f2c05" stroke="#7f2c05"/>
<path d="M671.4,342.4 L673.3,342.7 L673,345.2 L671.6,345Z" fill="#7f2c05" stroke="none"/>
<path d="M766.2,374.2 L768.2,373.4 L769,374.8 L767.2,375.8Z" fill="#fe9929" stroke="none"/>
<path d="M770.2,371.2 L773.2,370 L773.4,370.6 L770.6,371.8Z" fill="#fe9929" stroke="none"/>
<path d="M743.4,366.8 L744.4,366.8 L745,370.6 L744,370.6Z" fill="#993404" stroke="#993404"/>
<path d="M412.9,152 L414.3,149.2 L420,152 L427.1,153.5 L432.7,155.6 L434.2,157.7 L431.3,159.1 L427.1,158.4 L421.4,157 L425.7,161.2 L429.9,163.4 L434.2,161.2 L437,158.4 L439.8,157.7 L440.5,154.2 L438.4,153.5 L445.5,154.9 L455,152.7 L460,153 L468,149 L472,152 L478,154 L480,150 L478,146 L480,144 L484,147 L487,153 L489,158 L491,154 L487,147 L494,145 L498,142 L504,139 L510,137 L520,135 L530,136 L538,138 L536,141.6 L546,143 L558,142.4 L570,145 L578,148 L584,146 L590,147 L598,145 L614,147 L628,149 L638,151 L648,152 L650,150 L662,151 L670,155 L680,162 L686,167 L680,169 L674,172 L666,174 L665,177 L670,180 L675,187 L674,194 L668,190 L662,182 L659,178 L660,170 L658,168 L654,171 L648,170 L648,175 L638,174 L630,176 L626,179 L624.4,185.6 L632,187 L639.5,190.6 L642.3,195.6 L645.2,201.2 L646.6,206.9 L644.4,212.6 L640.9,216.1 L637.4,215.4 L636.7,210.5 L635.9,206.2 L637.4,203.4 L633.8,202.7 L631,199.8 L625.3,197 L619.7,195.6 L614,193.5 L608.3,190.6 L601.2,189.9 L599.8,192.7 L601.2,196.3 L597.7,197.7 L590,199 L578,198 L568,196 L558,194 L557,198 L548,197 L540,200 L536,198 L528,196 L520,194 L514,190 L507.2,187.4 L501.5,185.5 L495.8,186 L492,186.9 L484.4,187.9 L482,189.3 L483,192.1 L484.4,194.5 L481.6,195.9 L476.8,195 L473,195.5 L468.3,194 L463.5,193.6 L459.7,195.5 L457.6,197.8 L457.8,201.2 L459.7,203.5 L462.6,205 L463.5,206.9 L460.7,210.2 L460.2,212.6 L462.6,215.4 L464.5,218.7 L463.5,219.7 L460.7,219.2 L456.9,216.8 L450.2,215.4 L446.4,214.5 L439.8,211.1 L440.7,207.3 L443.1,205.4 L442.6,202.1 L444,199.3 L442.6,203 L443.4,199.5 L439.1,195.9 L432.7,193.1 L427.1,192.4 L425.7,188.2 L421.4,183.9 L417.2,185.3 L415,182.5 L416.4,179.7 L415.7,176.1 L413.6,173.3 L416.4,170.5 L419.3,166.9 L417.2,162.7 L414.3,157Z" fill="#fff7bc" stroke="#fff7bc"/>
<path d="M638.8,187.1 L642.3,190.6 L648,197 L653.7,202.7 L657.2,207.6 L653.7,204.1 L649.4,199.8 L644.4,194.2 L640.2,189.2Z" fill="#fff7bc" stroke="#fff7bc"/>
<path d="M447,145 L450,140 L458,137 L467,135.6 L467.6,137 L460,139 L454,142 L455,147 L458,148.4 L452,148.4 L448,147Z" fill="#fff7bc" stroke="#fff7bc"/>
<path d="M493,129 L500,128.4 L509,131 L518,133.6 L510,132.4 L506,132.4 L498,131Z" fill="#fff7bc" stroke="#fff7bc"/>
<path d="M427,129 L432,128.4 L436,129.4 L431,130Z" fill="#fff7bc" stroke="#fff7bc"/>
<path d="M574,138 L580,137.4 L587,138.4 L580,140Z" fill="#fff7bc" stroke="#fff7bc"/>
<path d="M588,139 L596.4,139.6 L596.8,140.6 L589,140.4Z" fill="#fff7bc" stroke="#fff7bc"/>
<path d="M585,142 L591,142.4 L590,144 L585.6,143.6Z" fill="#fff7bc" stroke="#fff7bc"/>
<path d="M401.6,185.6 L405.8,185.3 L406.1,187 L401.9,187Z" fill="#fff7bc" stroke="#fff7bc"/>
<path d="M378,130.4 L388,129 L401,129.6 L398,132 L400,134 L394,135 L390,133 L386,136 L381,133Z" fill="#ffffe5" stroke="#ffffe5"/>
<path d="M373.2,176.1 L372.1,170.5 L374,166.9 L380.3,163.4 L386,157 L391.7,152.7 L397.3,149.9 L404.4,147.8 L410.1,147.4 L414.3,149.2 L412.9,152 L410.1,150.6 L405.8,149.9 L401.6,151.3 L395.9,152.7 L391.7,156.3 L388.1,161.2 L385.3,166.2 L384.6,171.2 L383.9,176.8 L383.2,179.7 L381,178.2 L378.9,177.5 L376.1,177.5Z" fill="#ffffe5" stroke="#ffffe5"/>
<path d="M383.9,176.8 L384.6,171.2 L385.3,166.2 L388.1,161.2 L391.7,156.3 L395.9,152.7 L401.6,151.3 L403.7,154.2 L404.4,158.4 L405.8,159.8 L403.7,159.1 L401.6,161.2 L398.7,164.1 L395.9,168.3 L395.6,173.3 L397.3,176.8 L395.9,179.7 L393.1,182.5 L389.5,183.9 L387.4,181.8 L386,178.2Z" fill="#ffffe5" stroke="#ffffe5"/>
<path d="M401.6,151.3 L405.8,149.9 L410.1,150.6 L412.9,152 L414.3,157 L417.2,162.7 L419.3,166.9 L416.4,170.5 L413.6,173.3 L408.7,174 L405.1,173.3 L402.7,170.5 L402.3,165.5 L404.4,162 L405.8,159.8 L404.4,158.4 L403.7,154.2Z" fill="#ffffe5" stroke="#ffffe5"/>
<path d="M352,177.5 L356.2,176.5 L357.7,179.7 L356.2,182.5 L359.8,185.3 L361.2,188.9 L364,191 L365.5,193.8 L362.6,195.9 L357.7,196.7 L352,197.8 L354.8,194.5 L356.2,192.4 L354.1,191 L355.5,187.5 L352.7,185.3 L351.7,181.1Z" fill="#ffffe5" stroke="#ffffe5"/>
<path d="M344.2,188.2 L347.7,185.3 L351.3,186 L351.7,189.6 L349.2,192.4 L344.9,193.5 L343.5,191Z" fill="#ffffe5" stroke="#ffffe5"/>
<path d="M378.9,183.9 L379.2,180.4 L382.5,179.7 L382.9,182.5 L382.5,185.3 L380,186Z" fill="#ffffe5" stroke="#ffffe5"/>
<path d="M383.9,182.5 L386.3,182.5 L386,185 L384.2,185Z" fill="#ffffe5" stroke="none"/>
<path d="M408.7,174.7 L413.6,174.7 L415.7,176.1 L416.4,179.7 L412.2,179.4 L408.7,179 L407.2,176.8Z" fill="#ffffe5" stroke="#ffffe5"/>
<path d="M405.8,179.7 L408.7,179 L412.2,179.4 L416.4,179.7 L415,182.5 L417.2,185.3 L414.3,184.6 L410.1,183.2 L406.5,183.6 L404.7,182.5Z" fill="#ffffe5" stroke="#ffffe5"/>
<path d="M404.7,182.5 L406.5,183.6 L410.1,183.2 L414.3,184.6 L411.5,187.5 L410.1,189.6 L405.8,186.7 L405.8,185.3 L404.4,185Z" fill="#ffffe5" stroke="#ffffe5"/>
<path d="M390.9,187.5 L394.5,186.7 L401.6,186 L401.9,187 L406.1,187 L410.1,189.6 L410.8,192.4 L409.4,195.9 L410.8,196.7 L408.7,198.8 L403,198.1 L398.7,196.7 L394.5,195.9 L391.7,193.8 L390.9,190.3Z" fill="#ffffe5" stroke="#ffffe5"/>
<path d="M377.5,188.9 L379.6,186 L382.5,185.3 L384.6,186.7 L390.9,187.5 L390.9,190.3 L391.7,193.8 L388.1,195.9 L389.5,199.5 L388.8,202.3 L383.2,203.7 L377.5,203 L376.8,199.5 L375.4,195.9 L376.1,191.7Z" fill="#ffffe5" stroke="#ffffe5"/>
<path d="M371.1,193.1 L374,189.6 L377.5,188.9 L376.1,191.7 L375.4,195.9 L376.8,199.5 L374,198.1 L369.7,195.9Z" fill="#ffffe5" stroke="#ffffe5"/>
<path d="M354.1,202.3 L358.4,200.2 L361.9,199.5 L362.6,196.7 L367.6,195.9 L369.7,195.9 L374,198.1 L376.8,199.5 L377.5,203 L376.1,206.6 L377.5,210.8 L378.2,213.7 L374.7,215.8 L369,215.1 L365.5,217.2 L360.5,215.8 L358.4,214.4 L359.8,208 L357,204.4Z" fill="#ffffe5" stroke="#ffffe5"/>
<path d="M342.6,219.2 L344,215.7 L351.8,214.3 L361.7,213.6 L371.7,215 L368.8,219.2 L365.3,224.9 L363.2,229.2 L357.5,232 L350.4,233.4 L347.6,230.6 L343.3,229.2 L344,223.5Z" fill="#ffffe5" stroke="#ffffe5"/>
<path d="M376.1,206.6 L377.5,204.4 L383.2,203.7 L383.9,206.6 L380.3,208 L377.5,208Z" fill="#ffffe5" stroke="#ffffe5"/>
<path d="M383.2,203.7 L388.8,202.3 L394.5,202.3 L396.6,204.4 L394.5,207.3 L389.5,208 L383.9,206.6Z" fill="#ffffe5" stroke="#ffffe5"/>
<path d="M388.5,196.4 L391.7,194.1 L394.5,195.9 L398.7,196.7 L400.9,199.5 L395.9,202.3 L394.5,202.3 L391.7,201.6 L389.5,199.5Z" fill="#ffffe5" stroke="#ffffe5"/>
<path d="M395.9,202.3 L400.9,199.5 L408.7,199.5 L407.9,201.6 L401.6,203 L397.3,204.4 L396.6,204.4Z" fill="#ffffe5" stroke="#ffffe5"/>
<path d="M396.6,204.4 L401.6,203 L407.9,201.6 L410.1,202.3 L407.2,206.6 L401.6,208.7 L398,208 L395.9,206.6Z" fill="#ffffe5" stroke="#ffffe5"/>
<path d="M410.1,201.6 L414.3,202.3 L417.2,201.9 L419.3,204.4 L420.7,206.6 L422.8,208.7 L422.1,212.2 L417.2,213.7 L412.2,212.9 L408.7,210.8 L405.8,208 L407.2,206.6Z" fill="#ffffe5" stroke="#ffffe5"/>
<path d="M412.2,212.9 L417.2,213.7 L422.1,212.2 L421.4,216.5 L418.6,218.6 L413.6,219.3 L410.8,217.2 L410.8,214.4Z" fill="#ffffe5" stroke="#ffffe5"/>
<path d="M417.2,201.9 L420,201.9 L422.8,204.4 L424.2,207.3 L422.8,208.7 L420.7,206.6 L419.3,204.4Z" fill="#ec7014" stroke="#ec7014"/>
<path d="M403,208.7 L405.8,208 L408.7,210.8 L410.8,214.4 L410.1,217.2 L407.9,217.2 L405.8,214.4 L404.1,211.5Z" fill="#fff7bc" stroke="#fff7bc"/>
<path d="M395.2,210.8 L401.6,210.1 L403,212.2 L401.6,215.8 L398.7,215.1 L396.6,212.9Z" fill="#fee391" stroke="#fee391"/>
<path d="M389.5,209.4 L394.5,207.3 L398,208 L401.6,208.7 L403,208.7 L401.6,210.1 L395.2,210.8 L396.6,212.9 L398.7,215.1 L401.6,217.2 L397.3,216.5 L393.1,212.2 L390.9,211.5Z" fill="#ffffe5" stroke="#ffffe5"/>
<path d="M389.5,208 L394.5,207.3 L389.5,209.4Z" fill="#ffffe5" stroke="#ffffe5"/>
<path d="M377.5,210.8 L380.3,208 L383.9,206.6 L389.5,208 L389.5,209.4 L388.1,211.5 L388.9,209.9 L392.1,213.1 L396.3,217.9 L400.1,222.2 L401.7,223.8 L400.6,225.4 L399,224.3 L397.9,226.5 L399,228.1 L396.9,229.1 L395.8,227 L393.1,223.8 L388.9,218.5 L385.7,214.2 L383.5,212.6 L383.2,212.9 L379.6,213.7 L378.2,213.7Z" fill="#ffffe5" stroke="#ffffe5"/>
<path d="M380.9,220.6 L383,220.4 L383.3,225.9 L381.2,226.1Z" fill="#ffffe5" stroke="#ffffe5"/>
<path d="M381.2,216.3 L382.5,216.1 L382.7,219.7 L381.4,219.7Z" fill="#ffffe5" stroke="#ffffe5"/>
<path d="M389.9,229.1 L395.3,228.6 L394.7,231.8 L391,230.7Z" fill="#ffffe5" stroke="#ffffe5"/>
<path d="M407,221.1 L411.3,220.6 L414.5,220.1 L417.7,220.6 L415.5,222.2 L412.3,222.9 L411.8,224.9 L413.9,229.1 L412.3,232.3 L410.2,230.7 L408.6,227 L406.5,223.8Z" fill="#ffffe5" stroke="#ffffe5"/>
<path d="M406.5,219 L410.2,218.7 L411.3,220.6 L407,221.1Z" fill="#ffffe5" stroke="#ffffe5"/>
<path d="M413.9,235 L419.8,235.3 L419.8,236.4 L414.1,236.2Z" fill="#ffffe5" stroke="#ffffe5"/>
<path d="M342.6,219.2 L347.9,219 L349,224.2 L347.9,230.3 L343.3,229.2 L344,223.5Z" fill="#ffffe5" stroke="#ffffe5"/>
</g>
<g fill="none" stroke="#6b6b6b" stroke-opacity="0.5" stroke-width="0.4" stroke-linejoin="round">
<path d="M321,159.6 L328,158 L337,157.6 L339,160 L336,163.6 L329,165 L323,163.6Z"/>
<path d="M47.4,161.4 L52.4,158.6 L61,152.6 L63.6,156.6 L68,157.4 L68.4,159.4 L63.6,160.4 L60,162.4 L57,163.6 L54,160.4 L50,161Z"/>
<path d="M67.6,147.6 L70.4,146.6 L73,147 L70,148.4Z"/>
<path d="M186.6,257.6 L189,258 L189.4,260 L187.2,259.6Z"/>
<path d="M187.2,263 L188.8,263 L188.8,265.6 L187.4,265.6Z"/>
<path d="M185,279.6 L189.6,280 L189.2,281.6 L185.6,281.6Z"/>
<path d="M200,276.4 L204,276.4 L207.6,279 L204,280.4 L201,281.6 L199.6,279Z"/>
<path d="M106,243.6 L112,243 L114,245.6 L125,245.6 L129,245 L132,250 L138,251 L142,258 L145,260 L143,268 L144,275 L148,280 L154,279 L158,275 L160,272.4 L166.4,272 L165,277 L162,281 L160,281.6 L158,281.6 L156,284 L155,288 L152,290 L149,287 L142,287 L134,283 L128,280 L124,277 L125,271 L122,266 L118,260 L115,254 L113,247 L111,248 L112,254 L115,262 L116,268 L114,266 L111,260 L108,256 L107,250Z"/>
<path d="M152,290 L155,288 L156,284 L158,281.6 L160,281.6 L160.6,285 L162,287 L160,289 L158,291 L154,291Z"/>
<path d="M160.6,285 L166,286 L170,287 L170,287 L172,288.4 L170,290 L170,290 L166,291 L164,293 L162,291 L160,289 L162,287Z"/>
<path d="M158,291 L160,289.2 L162.4,291.4 L163,293 L160,293Z"/>
<path d="M166,299 L170,299 L170.4,299 L172.4,302.4 L172.8,305.6 L171,305 L168.4,303Z"/>
<path d="M172.8,305.6 L176,305.6 L179,303.6 L183,304 L185,307 L183.6,309 L181,306 L178,308 L175,308 L172.4,307Z"/>
<path d="M185,307 L188,302 L192,299 L196,297 L199,296 L200,298 L197,301 L196,305 L199,309 L206,310 L208,318 L207,323 L209,326 L202,327 L202.4,334 L202,339 L200,338 L198,335 L193,334 L189,329 L184,326 L181,324 L182,320 L185,316 L184,310Z"/>
<path d="M200,298 L202,297 L200,301 L202,303 L203,299 L209,300 L216,301 L221,300 L224,304 L225,307 L222.4,310 L223,314 L218,318 L215,323 L212,326 L209,326 L207,323 L208,318 L206,310 L199,309 L196,305 L197,301Z"/>
<path d="M225,307 L229,310 L231,314 L230,319 L232,323 L228,324 L225.6,321 L224,318 L223,314 L222.4,310Z"/>
<path d="M231,314 L238,313 L238,318 L237,322 L233,323 L232,323 L230,319Z"/>
<path d="M177,326 L181,324 L184,326 L189,329 L190,332 L185,336 L182,340 L179,340 L176,339 L177,332 L176,329Z"/>
<path d="M176,339 L179,340 L182,340 L185,336 L190,332 L189,329 L193,334 L198,335 L200,338 L202,339 L197,342 L194,347 L194,350 L194,350 L200,354 L205,357 L205.6,366 L204,375 L202,375 L198,372 L190,366 L185,357 L182,350 L179,345Z"/>
<path d="M209,326 L212,326 L215,323 L218,318 L223,314 L224,318 L225.6,321 L228,324 L232,323 L237,322 L239,322 L242,320 L244,318 L247,326 L254,329 L262,333 L272,337 L281,341 L283,346 L283,350 L283,350 L279,356 L274,364 L274,372 L272,380 L269,387 L260,390 L255,395 L255,402 L251,409 L247,414 L236,407 L239,399 L242,395 L240,388 L234,385 L232,378 L231,372 L227,370 L224,364 L215,359 L212,353 L205,357 L200,354 L194,350 L194,347 L197,342 L202,339 L202.4,334 L202,327Z"/>
<path d="M236,407 L247,414 L246,418 L240,419 L236,417 L235.6,410Z"/>
<path d="M205,357 L212,353 L215,359 L224,364 L227,370 L231,372 L232,378 L227,379 L223,380 L221.6,385 L218,386 L213,385.6 L211,387 L208,382 L205,376 L204,375 L205.6,366Z"/>
<path d="M223,380 L227,379 L232,378 L234,385 L240,388 L242,395 L239,399 L233.6,399 L234,393 L229,389 L222.4,386 L221.6,385Z"/>
<path d="M211,387 L213,385.6 L218,386 L221.6,385 L222.4,386 L229,389 L234,393 L233.6,399 L239,399 L236,407 L235.6,410 L236,417 L239,420 L240,426 L236,429 L231,429 L230,434 L227,436 L229,438 L227,444 L225,449 L229,452 L227,458 L225,462 L223,463 L218,459 L215.6,452 L215,444 L212,436 L211,428 L209,418 L208,408 L209,398 L210,391Z"/>
<path d="M228.4,465 L234,468.6 L237,470 L230,470Z"/>
<path d="M202,375 L204,375 L205,376 L208,382 L211,387 L210,391 L209,398 L208,408 L209,418 L211,428 L212,436 L215,444 L215.6,452 L218,459 L223,463 L226,464 L228.4,470 L224,470 L218,464 L213,458 L210.6,452 L209.8,444 L208,436 L206.2,426 L205.6,410 L205.2,394 L204,382Z"/>
<path d="M222.9,291.1 L223.9,291.1 L223.9,292.1 L222.9,292.1Z"/>
<path d="M226.1,293 L227,293 L227,294 L226.1,294Z"/>
<path d="M220.8,295.9 L221.8,295.9 L221.8,296.8 L220.8,296.8Z"/>
<path d="M325.6,272.4 L333.4,272.4 L333.4,267.4 L336.2,266.7 L336.2,260.3 L344,256.8 L348.3,260.3 L349,263.2 L350.1,286.5 L337,287.9 L336.2,285.8 L332,284.4 L326.3,285.1 L324.9,281.6 L326.3,277.3Z"/>
<path d="M323.1,289.5 L325,285.7 L329.3,284.3 L333.5,285.7 L336.9,287.4 L336.1,292.3 L336.4,295.2 L335.4,294.2 L331.6,295.2 L328.3,297.6 L325.9,297.1 L324.5,293.8Z"/>
<path d="M324.5,292.4 L330.7,292.2 L330.7,293.1 L324.5,293.4Z"/>
<path d="M344,258 L370,277 L372,277.6 L372,283 L371,288 L365,288 L360,290 L357,293 L354,296 L352,300 L350.2,301.4 L347.8,300.4 L343.3,301.4 L343.5,298.5 L342.6,296.1 L336.4,295.2 L335.9,292.3 L337,287.9 L350.1,286.5 L349,263.2 L348.3,260.3Z"/>
<path d="M372,277.6 L390,268 L397,267 L398.4,273 L398,280 L396,290 L394,292 L388,294 L383,293 L376,292 L373,295 L370,292 L368,289 L365,288 L371,288 L372,283Z"/>
<path d="M397,267 L399,268 L417,275.6 L417,288 L415,290 L414,297 L415,300 L411,303 L406,307 L400,309 L397,306 L395,299 L397,296 L396,290 L398,280 L398.4,273Z"/>
<path d="M419.6,271 L445,271 L449.6,281 L447,283.4 L445.6,288 L444,296 L441.6,301.4 L439,299 L437.6,296 L434,301 L430,303 L426,302 L422,303 L419,304 L416,301 L415,300 L414,297 L415,290 L417,288 L417,275.6 L419,275Z"/>
<path d="M418.4,246 L428,246.4 L434,245.6 L438,248 L439.6,250 L439,255 L436,251 L435,252 L440,260 L443,266 L445,271 L419.6,271 L419.6,260Z"/>
<path d="M380.9,232 L383,230.6 L386.5,231.7 L385.8,236.2 L387.9,239.8 L386.5,243.3 L384.4,248.7 L383,244.7 L379.4,239.1Z"/>
<path d="M352,300 L354,296 L357,293 L360,290 L365,288 L368,289 L370,292 L373,295 L370,298 L365,299 L360,299 L356,300 L355,303Z"/>
<path d="M373,295 L376,292 L383,293 L388,294 L394,292 L396,296 L395,299 L393,303 L390,307 L387,310 L384,312 L381,316 L377,316 L375,312 L371,311 L371,304 L372,299Z"/>
<path d="M395,299 L397,306 L400,309 L397,313 L398,316 L400,320 L399,323 L392,322 L386,322 L385,317 L382,315 L384,312 L387,310 L390,307 L393,303Z"/>
<path d="M370,298 L373,295 L372,299 L371,304 L371,311 L369,312 L368,306 L367,301Z"/>
<path d="M365,299 L370,298 L367,301 L368,306 L369,312 L367,312.4 L365.6,306Z"/>
<path d="M356,300 L360,299 L365,299 L365.6,306 L367,312.4 L362,314.4 L358,315 L356.4,310 L357,305Z"/>
<path d="M343.5,308 L344.5,304.2 L343.3,301.4 L347.8,300.4 L350.2,301.4 L353,302.3 L356,301.8 L356.3,311.8 L356.8,313.2 L353,314.2 L348.3,315.1 L345.4,315.6 L345.4,314.7Z"/>
<path d="M338.8,302.8 L340.7,304.2 L342.1,307.5 L343.5,308 L345.4,314.7 L343.5,315.6 L340.7,313.2 L337.3,309.4 L336.4,308 L337.8,305.6Z"/>
<path d="M333.5,302.8 L335.4,301.4 L337.8,301.8 L338.8,302.8 L337.8,305.6 L336.4,308 L334,307.1 L332.6,304.7Z"/>
<path d="M446.1,291.4 L449.5,289.5 L454.2,290.4 L458,293.8 L459,297.1 L459.4,298.5 L461.8,301.4 L464.7,304.7 L472.3,307.5 L469.4,311.8 L464.7,315.6 L459.9,317 L455.2,317.5 L452.3,318.5 L448.5,317 L445.2,314.2 L443.3,311.8 L439.5,307.1 L441.4,303.3 L443.3,297.6 L444.7,293.8Z"/>
<path d="M462.3,301.4 L464.7,299.5 L471.3,298.5 L479.9,297.1 L480.3,300.4 L478,308 L473.2,315.6 L467.5,322.3 L463.7,327 L459,332 L457,330 L458.5,317.5 L459.9,317 L464.7,315.6 L469.4,311.8 L472.3,307.5 L464.7,304.7 L461.8,301.4Z"/>
<path d="M459,296.8 L461,295.5 L462,296.8 L461,298.5 L459.3,298.7Z"/>
<path d="M437,318 L442,317 L444,321 L442,326 L440,330 L434,330 L432.4,328 L434,322Z"/>
<path d="M439.9,317.8 L442.7,315.4 L444.1,313 L445.2,314.2 L448.5,317 L452.3,318.5 L455.2,317.5 L458.5,317.5 L457.6,324 L457,330 L459,332 L456,337 L453,341 L442,331 L440,330 L442,326 L444,321Z"/>
<path d="M408,315 L412,317 L417,314 L423,315 L428,314 L432,316 L437,318 L434,322 L432.4,328 L431,334 L432,340 L433,346 L434,350 L436,350 L430,351 L429,356 L429,361 L426,362 L420,358 L414.4,356 L414,350 L409,350 L408,347 L402,348 L400,343 L395,344 L391.6,343 L393,341 L397,340 L400,334 L404,328 L407,322Z"/>
<path d="M434,330 L440,330 L442,331 L453,341 L454,350 L456,355 L444,358 L442,359 L439,356 L436,350 L434,350 L433,346 L432,340 L431,334 L432.4,328Z"/>
<path d="M391.6,343 L395,344 L400,343 L402,348 L408,347 L409,350 L414,350 L414.4,356 L413,361 L414,370 L419,373 L416,374 L410,373.6 L400,373.6 L390,372.4 L389.6,368 L391.6,362 L394,356 L393,350Z"/>
<path d="M390,372.4 L400,373.6 L410,373.6 L416,374 L419,373.4 L416,374.6 L410,375 L410,382 L409,390 L408.4,398 L406,403 L402,403 L399.6,403 L399,398 L396,390 L393,382 L391,376Z"/>
<path d="M410,375 L416,374.2 L419,373.6 L422,376 L426,383 L429,386 L424,389 L421,394 L416,395 L413,398 L409,397 L409,390 L410,382Z"/>
<path d="M413,361 L414.4,356 L420,358 L426,362 L429,361 L429,356 L430,351 L436,350 L439,356 L439,362 L436,366 L432,368 L428,370 L424,373.6 L419,373 L414,370Z"/>
<path d="M424,373.6 L428,370 L432,368 L436,371 L438,376 L436,382 L432,386 L429,386 L426,383 L422,376Z"/>
<path d="M444,358 L456,355 L456,364 L454,369 L448,374 L443,378 L442,384 L443,390 L438,394 L436.4,398 L435.6,395 L436,382 L438,376 L436,371 L436,366 L439,362 L440,365 L441,369 L443,370 L444,366 L442,362 L442,359Z"/>
<path d="M439,356 L441,357 L440,362 L440.6,366 L443,370 L441,369 L440,365 L439,362Z"/>
<path d="M402,403 L406,403 L408.4,398 L409,397 L413,398 L416,395 L421,394 L424,389 L429,386 L432,386 L435.6,395 L436.4,398 L435,403 L430,410 L424,415 L416,417 L408,418 L403.6,418 L403,413 L400,407 L399.6,403Z"/>
<path d="M432,395.6 L434.4,395 L434.8,398.6 L432.4,399.2Z"/>
<path d="M423,405 L426.4,402.4 L428.4,405 L425,408.4Z"/>
<path d="M476,359.6 L478,368 L474,378 L470,388 L467,394 L462,393 L460.6,387 L462.4,380 L465,371 L470,369 L474,363Z"/>
<path d="M461.6,357.6 L462.8,357.6 L462.8,358.8 L461.6,358.8Z"/>
<path d="M463.6,358.6 L464.8,358.6 L464.8,359.8 L463.6,359.8Z"/>
<path d="M492.4,380.4 L493.6,380.4 L493.6,381.6 L492.4,381.6Z"/>
<path d="M305.4,283.6 L306.6,283.6 L306.6,284.6 L305.4,284.6Z"/>
<path d="M309.4,284.6 L310.6,284.6 L310.6,285.6 L309.4,285.6Z"/>
<path d="M307.4,288.6 L308.6,288.6 L308.6,289.6 L307.4,289.6Z"/>
<path d="M310,286.6 L311.2,286.6 L311.2,287.6 L310,287.6Z"/>
<path d="M430.8,331.9 L433.5,331.6 L433.8,334.1 L431.3,334.7Z"/>
<path d="M419.3,222.9 L421.9,222.2 L425.1,222.5 L428.3,220.6 L434.7,218.7 L441.1,219.7 L447.5,220.6 L451.8,219.7 L455.5,220.6 L456.6,222.9 L458.7,225.9 L458,230 L453.9,230.7 L449.6,231.3 L445.4,231.3 L442,232.1 L441.3,233.6 L440.3,232.1 L437.4,231.8 L434.7,232.5 L431,231.8 L427.8,233.1 L424.1,231.8 L421.1,229.3 L419.8,226.1 L420.6,224Z"/>
<path d="M418.5,219.7 L420.3,218.7 L423,219.7 L423.5,221.4 L420.9,221.7 L419.3,221.1Z"/>
<path d="M433.1,236.1 L437.1,235.2 L437.4,236.6 L434,237.5Z"/>
<path d="M446.4,214.5 L450.2,215.4 L456.9,216.8 L460.7,219.2 L461.1,220.6 L457.8,220.6 L455.4,220.3 L451.2,218.7Z"/>
<path d="M455.4,220.6 L458.3,220.9 L460.7,223.5 L462.6,226.3 L460.2,225.4 L457.8,223Z"/>
<path d="M452.7,230.4 L457.6,229.7 L459.7,231.8 L461.2,236.1 L464,240.3 L468.2,246 L469.7,249.5 L467.5,250.2 L463.3,249.5 L459.7,246.7 L454.1,243.2 L449.1,240.3 L453.4,235.4Z"/>
<path d="M441.1,245.1 L445.4,242.5 L448.6,241.4 L449.6,243.5 L445.9,245.1 L447.5,247.2 L444.3,250.4 L441.1,251 L440.9,247.8Z"/>
<path d="M440.2,239.2 L442,237.5 L442.2,240.3 L440.8,242.5Z"/>
<path d="M461,283.9 L464.8,282.5 L472.6,281.8 L479.7,278.2 L481.8,281.1 L483.2,285.3 L481.1,287.5 L474,290.3 L466.9,293.1 L462,293.8 L461.2,288.9Z"/>
<path d="M495.9,236.8 L499.4,235.4 L505.1,233.2 L509.3,231.1 L514.3,229 L515.7,231.1 L520.7,230.4 L524.2,230.4 L529.2,233.2 L523.5,234 L520.7,236.1 L518.5,237.5 L517.8,241.7 L515,244.6 L513.6,247.4 L509.3,250.2 L503.7,251.7 L499.4,251.7 L498,247.4 L498.7,244.6 L496.6,241.7Z"/>
<path d="M499.4,251.7 L503.7,251.7 L509.3,250.2 L513.6,247.4 L515,244.6 L517.8,241.7 L518.5,237.5 L520.7,236.1 L523.5,234 L529.2,233.2 L532.7,236.1 L535.5,238.9 L536.2,242.5 L532,243.2 L527.7,241.7 L527,248.8 L522.1,254.5 L518.5,257.3 L520.7,261.6 L522.8,264.4 L517.8,264.4 L515,263 L510.8,262 L500.9,262Z"/>
<path d="M535.5,238.9 L536.2,242.5 L532,243.2 L527.7,241.7 L527,248.8 L522.1,254.5 L518.5,257.3 L520.7,261.6 L522.8,264.4 L517.8,264.4 L515.1,264.1 L519.3,266.9 L518.6,269.7 L522.2,272.6 L525,273.3 L528.5,271.9 L527.8,275.4 L530.7,282.5 L534.2,291 L537.7,299.5 L541.3,306.6 L544.1,303 L545.5,298.1 L546.2,289.6 L550.5,283.9 L554.7,279.7 L560,271 L564,268 L562.4,264 L561,259 L567,260 L568,263 L570,267 L572,270 L574,268 L576,262 L579,259 L580,255 L577,252 L570,253 L567,257 L562,257 L561,258 L559,259 L550,256 L543,253 L542,249 L536,243Z"/>
<path d="M542,249 L547,250 L554,253.6 L560,255 L560,258 L559,259 L550,256 L543,253Z"/>
<path d="M561,259 L567,260 L568,263 L570,267 L570.6,270.6 L568.4,269 L567,268 L564,268 L562.4,264Z"/>
<path d="M546.9,303 L548.4,302.3 L550.5,306.6 L550.8,310.1 L548.8,312.2 L546.9,309.4 L546.2,305.9Z"/>
<path d="M511.4,218.4 L515,216.2 L520.7,215.5 L526.3,216.2 L531.3,216.5 L529.9,219.1 L526.3,221.2 L522.1,222.6 L520.7,225.5 L516.4,224.7 L512.9,225.5 L509.3,223.3 L511.4,221.2 L515.7,221.2 L515,219.8Z"/>
<path d="M507.6,225.5 L509.3,223.3 L512.9,225.5 L516.4,224.7 L520.7,225.5 L522.8,227.6 L524.2,230.4 L520.7,230.4 L515.7,231.1 L514.3,229 L509.3,231.1 L509.3,228.3Z"/>
<path d="M540,200 L548,197 L557,198 L558,194 L568,196 L578,198 L590,199 L601,198 L604,203 L607.6,205.6 L600,208 L596,211 L594,216 L584,219 L574,217 L564,215 L556,210 L550,208 L547,204Z"/>
<path d="M634.5,228.9 L637.4,227.5 L640.9,229.6 L643,233.1 L643.7,235.9 L640.9,237.8 L638.1,237.4 L636.7,234.5 L635.9,231.7Z"/>
<path d="M579.5,254.5 L583.3,255.5 L583.8,259.3 L582.4,263.1 L585.7,267.8 L588.5,270.7 L591.4,272.1 L590.4,273.5 L587.6,275.4 L585.2,277.8 L584.7,280.2 L585.7,283 L584.3,284.9 L580.9,286.8 L578.1,285.9 L577.6,282.5 L575.7,277.3 L572.9,272.6 L571.4,269.2 L571.9,268.8 L574.8,264 L575.7,258.3Z"/>
<path d="M591.4,272.1 L593.3,269.7 L595.7,273.5 L599,274.5 L600.4,276.4 L598.5,278.7 L601.4,280.6 L605.2,284.9 L608,288.2 L608.5,291.1 L604.7,291.6 L603.7,287.8 L600.4,282.1 L597.6,280.2 L593.8,281.6 L592.8,278.3 L590.4,275.4 L590.4,273.5Z"/>
<path d="M593.3,269.7 L597.1,268.3 L600.4,267.6 L602.8,270.2 L606.6,272.1 L604.7,273.5 L602.8,276.4 L602.8,278.7 L606.6,282.5 L610.9,286.8 L613.2,291.6 L613.2,296.8 L610.9,299.2 L606.6,302 L603.7,302 L606.1,299.2 L608.5,296.8 L609.4,292.5 L608.5,291.1 L608,288.2 L605.2,284.9 L601.4,280.6 L598.5,278.7 L600.4,276.4 L599,274.5 L595.7,273.5Z"/>
<path d="M585.2,277.8 L587.6,275.4 L590.4,275.4 L592.8,278.3 L593.8,281.6 L597.6,280.2 L600.4,282.1 L603.7,287.8 L604.7,291.6 L598.5,291.1 L597.1,293.5 L595.2,294.9 L592.3,293 L589.5,294.4 L590.4,299.2 L590.9,302 L593,309 L597,312 L595,313 L591,309 L589,305 L588.5,296.3 L587.1,290.6 L585.7,285.9 L585.7,283 L584.7,280.2Z"/>
<path d="M598.5,291.1 L604.7,291.6 L608.5,291.1 L609.4,292.5 L608.5,296.8 L606.1,299.2 L602.3,300.1 L599.5,298.2 L597.6,295.4 L597.1,293.5Z"/>
<path d="M590,317.6 L592.8,319.7 L597.1,324.7 L602,330.4 L606.3,334.6 L607.7,338.9 L607,343.1 L604.2,343.1 L599.9,338.9 L595.7,332.5 L592.1,325.4 L590,321.9 L586.5,317.6 L582.6,313.8 L584.3,313.4 L587.9,316.2Z"/>
<path d="M605.6,343.5 L609.8,343.1 L614.8,345.2 L619.7,345.9 L625.4,348.1 L629,349.5 L627.5,350.9 L621.9,350.2 L615.5,348.8 L609.8,347.4 L606.3,345.9Z"/>
<path d="M631.8,350.2 L636.7,349.2 L636,351.2 L632.2,351.6Z"/>
<path d="M638.9,350.2 L645.2,349.5 L644.5,351.2 L639.6,351.6Z"/>
<path d="M646.7,352.3 L650.9,350.2 L655.9,349.5 L654.4,351.2 L649.5,353.7 L647.4,354.4Z"/>
<path d="M637.5,353 L640.3,353.5 L639.6,354.9 L637.7,354.4Z"/>
<path d="M614.8,324 L617.6,323.3 L622.6,321.9 L627.5,319.7 L630.4,317.6 L632.5,316.9 L634.6,319 L635.3,323.3 L636.7,325.4 L634.6,326.1 L632.5,330.4 L631.1,337.5 L628.2,338.2 L624.7,336.7 L619.7,336.7 L616.9,333.9 L615.5,330.4 L614.4,326.8Z"/>
<path d="M626.5,315.2 L628.5,314.4 L628.5,316.6 L626.8,317.2Z"/>
<path d="M638.9,326.8 L641.7,325.1 L646.7,324.4 L651.6,324 L650.9,325.7 L646.7,327.1 L642.4,328.2 L641.7,331.1 L645.9,330.4 L647.4,331.8 L643.8,333.2 L644.5,336 L646.7,339.6 L645.9,342.1 L643.8,340.3 L642.4,336 L641,338.2 L640.7,342.4 L638.4,342.7 L638.2,336.7 L637,332.5Z"/>
<path d="M657.3,322.6 L659.4,324 L659.7,327.5 L658.7,330.4 L657.7,326.8Z"/>
<path d="M653,336 L656.6,336.5 L655.9,337.9 L653.5,337.5Z"/>
<path d="M658,335.3 L662.9,335.6 L665.1,337 L660.8,337Z"/>
<path d="M664.4,330.4 L668.6,329 L672.2,329.7 L672.9,333.2 L676.4,333.9 L680.7,332.5 L687.7,333.2 L687.7,351.6 L684.2,349.5 L679.2,349.5 L682.1,345.9 L679.2,342.4 L675,338.9 L671.4,337.5 L671.4,334.6 L667.9,333.9 L666.5,331.8Z"/>
<path d="M671.4,342.4 L673.3,342.7 L673,345.2 L671.6,345Z"/>
<path d="M766.2,374.2 L768.2,373.4 L769,374.8 L767.2,375.8Z"/>
<path d="M770.2,371.2 L773.2,370 L773.4,370.6 L770.6,371.8Z"/>
<path d="M743.4,366.8 L744.4,366.8 L745,370.6 L744,370.6Z"/>
<path d="M412.9,152 L414.3,149.2 L420,152 L427.1,153.5 L432.7,155.6 L434.2,157.7 L431.3,159.1 L427.1,158.4 L421.4,157 L425.7,161.2 L429.9,163.4 L434.2,161.2 L437,158.4 L439.8,157.7 L440.5,154.2 L438.4,153.5 L445.5,154.9 L455,152.7 L460,153 L468,149 L472,152 L478,154 L480,150 L478,146 L480,144 L484,147 L487,153 L489,158 L491,154 L487,147 L494,145 L498,142 L504,139 L510,137 L520,135 L530,136 L538,138 L536,141.6 L546,143 L558,142.4 L570,145 L578,148 L584,146 L590,147 L598,145 L614,147 L628,149 L638,151 L648,152 L650,150 L662,151 L670,155 L680,162 L686,167 L680,169 L674,172 L666,174 L665,177 L670,180 L675,187 L674,194 L668,190 L662,182 L659,178 L660,170 L658,168 L654,171 L648,170 L648,175 L638,174 L630,176 L626,179 L624.4,185.6 L632,187 L639.5,190.6 L642.3,195.6 L645.2,201.2 L646.6,206.9 L644.4,212.6 L640.9,216.1 L637.4,215.4 L636.7,210.5 L635.9,206.2 L637.4,203.4 L633.8,202.7 L631,199.8 L625.3,197 L619.7,195.6 L614,193.5 L608.3,190.6 L601.2,189.9 L599.8,192.7 L601.2,196.3 L597.7,197.7 L590,199 L578,198 L568,196 L558,194 L557,198 L548,197 L540,200 L536,198 L528,196 L520,194 L514,190 L507.2,187.4 L501.5,185.5 L495.8,186 L492,186.9 L484.4,187.9 L482,189.3 L483,192.1 L484.4,194.5 L481.6,195.9 L476.8,195 L473,195.5 L468.3,194 L463.5,193.6 L459.7,195.5 L457.6,197.8 L457.8,201.2 L459.7,203.5 L462.6,205 L463.5,206.9 L460.7,210.2 L460.2,212.6 L462.6,215.4 L464.5,218.7 L463.5,219.7 L460.7,219.2 L456.9,216.8 L450.2,215.4 L446.4,214.5 L439.8,211.1 L440.7,207.3 L443.1,205.4 L442.6,202.1 L444,199.3 L442.6,203 L443.4,199.5 L439.1,195.9 L432.7,193.1 L427.1,192.4 L425.7,188.2 L421.4,183.9 L417.2,185.3 L415,182.5 L416.4,179.7 L415.7,176.1 L413.6,173.3 L416.4,170.5 L419.3,166.9 L417.2,162.7 L414.3,157Z"/>
<path d="M638.8,187.1 L642.3,190.6 L648,197 L653.7,202.7 L657.2,207.6 L653.7,204.1 L649.4,199.8 L644.4,194.2 L640.2,189.2Z"/>
<path d="M447,145 L450,140 L458,137 L467,135.6 L467.6,137 L460,139 L454,142 L455,147 L458,148.4 L452,148.4 L448,147Z"/>
<path d="M493,129 L500,128.4 L509,131 L518,133.6 L510,132.4 L506,132.4 L498,131Z"/>
<path d="M427,129 L432,128.4 L436,129.4 L431,130Z"/>
<path d="M574,138 L580,137.4 L587,138.4 L580,140Z"/>
<path d="M588,139 L596.4,139.6 L596.8,140.6 L589,140.4Z"/>
<path d="M585,142 L591,142.4 L590,144 L585.6,143.6Z"/>
<path d="M401.6,185.6 L405.8,185.3 L406.1,187 L401.9,187Z"/>
<path d="M378,130.4 L388,129 L401,129.6 L398,132 L400,134 L394,135 L390,133 L386,136 L381,133Z"/>
<path d="M373.2,176.1 L372.1,170.5 L374,166.9 L380.3,163.4 L386,157 L391.7,152.7 L397.3,149.9 L404.4,147.8 L410.1,147.4 L414.3,149.2 L412.9,152 L410.1,150.6 L405.8,149.9 L401.6,151.3 L395.9,152.7 L391.7,156.3 L388.1,161.2 L385.3,166.2 L384.6,171.2 L383.9,176.8 L383.2,179.7 L381,178.2 L378.9,177.5 L376.1,177.5Z"/>
<path d="M383.9,176.8 L384.6,171.2 L385.3,166.2 L388.1,161.2 L391.7,156.3 L395.9,152.7 L401.6,151.3 L403.7,154.2 L404.4,158.4 L405.8,159.8 L403.7,159.1 L401.6,161.2 L398.7,164.1 L395.9,168.3 L395.6,173.3 L397.3,176.8 L395.9,179.7 L393.1,182.5 L389.5,183.9 L387.4,181.8 L386,178.2Z"/>
<path d="M401.6,151.3 L405.8,149.9 L410.1,150.6 L412.9,152 L414.3,157 L417.2,162.7 L419.3,166.9 L416.4,170.5 L413.6,173.3 L408.7,174 L405.1,173.3 L402.7,170.5 L402.3,165.5 L404.4,162 L405.8,159.8 L404.4,158.4 L403.7,154.2Z"/>
<path d="M352,177.5 L356.2,176.5 L357.7,179.7 L356.2,182.5 L359.8,185.3 L361.2,188.9 L364,191 L365.5,193.8 L362.6,195.9 L357.7,196.7 L352,197.8 L354.8,194.5 L356.2,192.4 L354.1,191 L355.5,187.5 L352.7,185.3 L351.7,181.1Z"/>
<path d="M344.2,188.2 L347.7,185.3 L351.3,186 L351.7,189.6 L349.2,192.4 L344.9,193.5 L343.5,191Z"/>
<path d="M378.9,183.9 L379.2,180.4 L382.5,179.7 L382.9,182.5 L382.5,185.3 L380,186Z"/>
<path d="M383.9,182.5 L386.3,182.5 L386,185 L384.2,185Z"/>
<path d="M408.7,174.7 L413.6,174.7 L415.7,176.1 L416.4,179.7 L412.2,179.4 L408.7,179 L407.2,176.8Z"/>
<path d="M405.8,179.7 L408.7,179 L412.2,179.4 L416.4,179.7 L415,182.5 L417.2,185.3 L414.3,184.6 L410.1,183.2 L406.5,183.6 L404.7,182.5Z"/>
<path d="M404.7,182.5 L406.5,183.6 L410.1,183.2 L414.3,184.6 L411.5,187.5 L410.1,189.6 L405.8,186.7 L405.8,185.3 L404.4,185Z"/>
<path d="M390.9,187.5 L394.5,186.7 L401.6,186 L401.9,187 L406.1,187 L410.1,189.6 L410.8,192.4 L409.4,195.9 L410.8,196.7 L408.7,198.8 L403,198.1 L398.7,196.7 L394.5,195.9 L391.7,193.8 L390.9,190.3Z"/>
<path d="M377.5,188.9 L379.6,186 L382.5,185.3 L384.6,186.7 L390.9,187.5 L390.9,190.3 L391.7,193.8 L388.1,195.9 L389.5,199.5 L388.8,202.3 L383.2,203.7 L377.5,203 L376.8,199.5 L375.4,195.9 L376.1,191.7Z"/>
<path d="M371.1,193.1 L374,189.6 L377.5,188.9 L376.1,191.7 L375.4,195.9 L376.8,199.5 L374,198.1 L369.7,195.9Z"/>
<path d="M354.1,202.3 L358.4,200.2 L361.9,199.5 L362.6,196.7 L367.6,195.9 L369.7,195.9 L374,198.1 L376.8,199.5 L377.5,203 L376.1,206.6 L377.5,210.8 L378.2,213.7 L374.7,215.8 L369,215.1 L365.5,217.2 L360.5,215.8 L358.4,214.4 L359.8,208 L357,204.4Z"/>
<path d="M342.6,219.2 L344,215.7 L351.8,214.3 L361.7,213.6 L371.7,215 L368.8,219.2 L365.3,224.9 L363.2,229.2 L357.5,232 L350.4,233.4 L347.6,230.6 L343.3,229.2 L344,223.5Z"/>
<path d="M376.1,206.6 L377.5,204.4 L383.2,203.7 L383.9,206.6 L380.3,208 L377.5,208Z"/>
<path d="M383.2,203.7 L388.8,202.3 L394.5,202.3 L396.6,204.4 L394.5,207.3 L389.5,208 L383.9,206.6Z"/>
<path d="M388.5,196.4 L391.7,194.1 L394.5,195.9 L398.7,196.7 L400.9,199.5 L395.9,202.3 L394.5,202.3 L391.7,201.6 L389.5,199.5Z"/>
<path d="M395.9,202.3 L400.9,199.5 L408.7,199.5 L407.9,201.6 L401.6,203 L397.3,204.4 L396.6,204.4Z"/>
<path d="M396.6,204.4 L401.6,203 L407.9,201.6 L410.1,202.3 L407.2,206.6 L401.6,208.7 L398,208 L395.9,206.6Z"/>
<path d="M410.1,201.6 L414.3,202.3 L417.2,201.9 L419.3,204.4 L420.7,206.6 L422.8,208.7 L422.1,212.2 L417.2,213.7 L412.2,212.9 L408.7,210.8 L405.8,208 L407.2,206.6Z"/>
<path d="M412.2,212.9 L417.2,213.7 L422.1,212.2 L421.4,216.5 L418.6,218.6 L413.6,219.3 L410.8,217.2 L410.8,214.4Z"/>
<path d="M417.2,201.9 L420,201.9 L422.8,204.4 L424.2,207.3 L422.8,208.7 L420.7,206.6 L419.3,204.4Z"/>
<path d="M403,208.7 L405.8,208 L408.7,210.8 L410.8,214.4 L410.1,217.2 L407.9,217.2 L405.8,214.4 L404.1,211.5Z"/>
<path d="M395.2,210.8 L401.6,210.1 L403,212.2 L401.6,215.8 L398.7,215.1 L396.6,212.9Z"/>
<path d="M389.5,209.4 L394.5,207.3 L398,208 L401.6,208.7 L403,208.7 L401.6,210.1 L395.2,210.8 L396.6,212.9 L398.7,215.1 L401.6,217.2 L397.3,216.5 L393.1,212.2 L390.9,211.5Z"/>
<path d="M389.5,208 L394.5,207.3 L389.5,209.4Z"/>
<path d="M377.5,210.8 L380.3,208 L383.9,206.6 L389.5,208 L389.5,209.4 L388.1,211.5 L388.9,209.9 L392.1,213.1 L396.3,217.9 L400.1,222.2 L401.7,223.8 L400.6,225.4 L399,224.3 L397.9,226.5 L399,228.1 L396.9,229.1 L395.8,227 L393.1,223.8 L388.9,218.5 L385.7,214.2 L383.5,212.6 L383.2,212.9 L379.6,213.7 L378.2,213.7Z"/>
<path d="M380.9,220.6 L383,220.4 L383.3,225.9 L381.2,226.1Z"/>
<path d="M381.2,216.3 L382.5,216.1 L382.7,219.7 L381.4,219.7Z"/>
<path d="M389.9,229.1 L395.3,228.6 L394.7,231.8 L391,230.7Z"/>
<path d="M407,221.1 L411.3,220.6 L414.5,220.1 L417.7,220.6 L415.5,222.2 L412.3,222.9 L411.8,224.9 L413.9,229.1 L412.3,232.3 L410.2,230.7 L408.6,227 L406.5,223.8Z"/>
<path d="M406.5,219 L410.2,218.7 L411.3,220.6 L407,221.1Z"/>
<path d="M413.9,235 L419.8,235.3 L419.8,236.4 L414.1,236.2Z"/>
<path d="M342.6,219.2 L347.9,219 L349,224.2 L347.9,230.3 L343.3,229.2 L344,223.5Z"/>
</g>
<g fill="url(#h)" stroke="#c8c8c8" stroke-width="0.5" stroke-linejoin="round">
<path d="M384.3,323.5 L389,322.6 L394.7,323 L399.5,322.6 L401.4,320.2 L402.8,317.8 L404.2,319.7 L403.3,323.5 L401.8,328.3 L400.4,333 L399.5,336.8 L397.1,339.2 L394.2,340.1 L391.4,340.6 L390.4,339.7 L387.6,335.9 L384.3,331.6 L383.3,328.3Z"/>
<path d="M561,254.6 L568,254.3 L568.4,257.5 L561.6,257.9Z"/>
</g>
<g>
<rect x="98.5" y="516.5" width="48" height="12" fill="url(#h)" stroke="#bdbdbd" stroke-width="0.7"/>
<line x1="122.5" y1="514" x2="122.5" y2="516.5" stroke="#666" stroke-width="0.7"/>
<text class="lg" x="122.5" y="510" text-anchor="middle">No data</text>
<rect x="166" y="516.5" width="58.5" height="12" fill="#ffffe5"/>
<rect x="224.5" y="516.5" width="58.5" height="12" fill="#fff7bc"/>
<rect x="283" y="516.5" width="58.5" height="12" fill="#fee391"/>
<rect x="341.5" y="516.5" width="58.5" height="12" fill="#fec44f"/>
<rect x="400" y="516.5" width="58.5" height="12" fill="#fe9929"/>
<rect x="458.5" y="516.5" width="58.5" height="12" fill="#ec7014"/>
<rect x="517" y="516.5" width="58.5" height="12" fill="#cc4c02"/>
<rect x="575.5" y="516.5" width="58.5" height="12" fill="#993404"/>
<rect x="634" y="516.5" width="58.5" height="12" fill="#7f2c05"/>
<rect x="692.5" y="516.5" width="58.5" height="12" fill="#662506"/>
<rect x="166" y="516.5" width="585.0" height="12" fill="none" stroke="#aaa" stroke-width="0.6"/>
<line x1="166" y1="514.5" x2="166" y2="528.5" stroke="#999" stroke-width="0.6"/>
<text class="lg" x="166" y="510" text-anchor="middle">0%</text>
<line x1="224.5" y1="514.5" x2="224.5" y2="528.5" stroke="#999" stroke-width="0.6"/>
<text class="lg" x="224.5" y="510" text-anchor="middle">10%</text>
<line x1="283" y1="514.5" x2="283" y2="528.5" stroke="#999" stroke-width="0.6"/>
<text class="lg" x="283" y="510" text-anchor="middle">20%</text>
<line x1="341.5" y1="514.5" x2="341.5" y2="528.5" stroke="#999" stroke-width="0.6"/>
<text class="lg" x="341.5" y="510" text-anchor="middle">30%</text>
<line x1="400" y1="514.5" x2="400" y2="528.5" stroke="#999" stroke-width="0.6"/>
<text class="lg" x="400" y="510" text-anchor="middle">40%</text>
<line x1="458.5" y1="514.5" x2="458.5" y2="528.5" stroke="#999" stroke-width="0.6"/>
<text class="lg" x="458.5" y="510" text-anchor="middle">50%</text>
<line x1="517" y1="514.5" x2="517" y2="528.5" stroke="#999" stroke-width="0.6"/>
<text class="lg" x="517" y="510" text-anchor="middle">60%</text>
<line x1="575.5" y1="514.5" x2="575.5" y2="528.5" stroke="#999" stroke-width="0.6"/>
<text class="lg" x="575.5" y="510" text-anchor="middle">70%</text>
<line x1="634" y1="514.5" x2="634" y2="528.5" stroke="#999" stroke-width="0.6"/>
<text class="lg" x="634" y="510" text-anchor="middle">80%</text>
<line x1="692.5" y1="514.5" x2="692.5" y2="528.5" stroke="#999" stroke-width="0.6"/>
<text class="lg" x="692.5" y="510" text-anchor="middle">90%</text>
<line x1="751" y1="514.5" x2="751" y2="528.5" stroke="#999" stroke-width="0.6"/>
<text class="lg" x="751" y="510" text-anchor="middle">100%</text>
</g></svg>
</body></html>
